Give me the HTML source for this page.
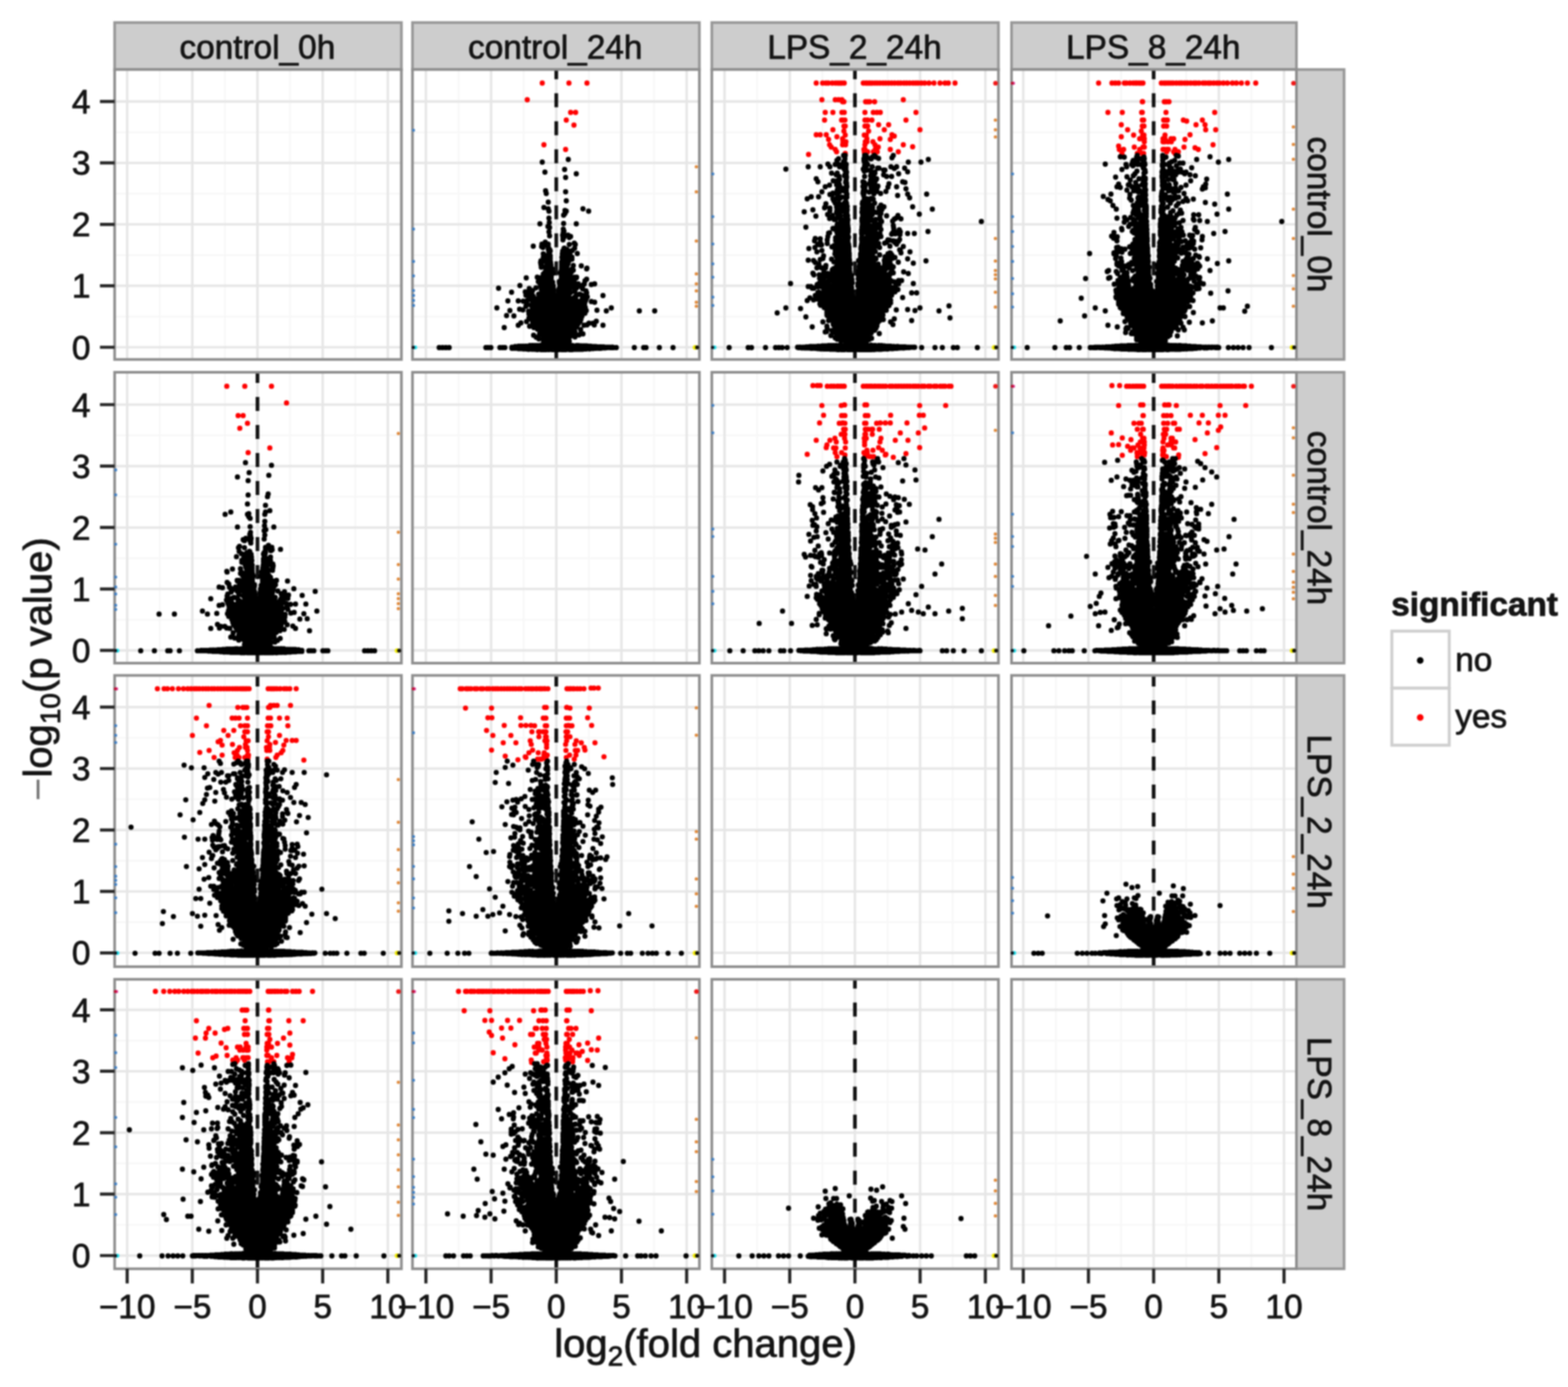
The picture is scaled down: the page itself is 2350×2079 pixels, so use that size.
<!DOCTYPE html>
<html lang="en">
<head>
<meta charset="utf-8">
<title>Volcano matrix</title>
<style>
html,body{margin:0;padding:0;background:#fff;}
body{width:2350px;height:2079px;overflow:hidden;}
svg{display:block;font-family:"Liberation Sans",Arial,Helvetica,sans-serif;}
text{fill:#141414;stroke:#141414;stroke-width:1.1px;stroke-linejoin:round;}
.tk{font-size:50px;}
.st{font-size:50px;}
.ti{font-size:60px;}
.lg{font-size:50px;}
.k{stroke:#000;stroke-width:7.8;stroke-linecap:round;fill:none;}
.r{stroke:#f00;stroke-width:7.8;stroke-linecap:round;fill:none;}
.c{fill:#000;stroke:none;}
.cr{fill:#f00;stroke:none;}
.e{stroke-linecap:round;fill:none;}
</style>
</head>
<body>
<svg width="2350" height="2079" viewBox="0 0 2350 2079">
<defs>
<filter id="bl" x="0" y="0" width="2350" height="2079" filterUnits="userSpaceOnUse" color-interpolation-filters="sRGB"><feGaussianBlur stdDeviation="1.1"/></filter>
<clipPath id="p01"><rect x="618.2" y="104.2" width="430" height="434.6"/></clipPath>
<clipPath id="p02"><rect x="1066.8" y="104.2" width="429.6" height="434.6"/></clipPath>
<clipPath id="p03"><rect x="1516" y="104.2" width="427" height="434.6"/></clipPath>
<clipPath id="p10"><rect x="171.8" y="558" width="429.8" height="436"/></clipPath>
<clipPath id="p12"><rect x="1066.8" y="558" width="429.6" height="436"/></clipPath>
<clipPath id="p13"><rect x="1516" y="558" width="427" height="436"/></clipPath>
<clipPath id="p20"><rect x="171.8" y="1012.4" width="429.8" height="436.6"/></clipPath>
<clipPath id="p21"><rect x="618.2" y="1012.4" width="430" height="436.6"/></clipPath>
<clipPath id="p23"><rect x="1516" y="1012.4" width="427" height="436.6"/></clipPath>
<clipPath id="p30"><rect x="171.8" y="1467.9" width="429.8" height="433.9"/></clipPath>
<clipPath id="p31"><rect x="618.2" y="1467.9" width="430" height="433.9"/></clipPath>
<clipPath id="p32"><rect x="1066.8" y="1467.9" width="429.6" height="433.9"/></clipPath>
<g id="da">
<path class="r" d="M-21 21.5h0m40 0h0m27 0h0m-89.5 25h0m65 19h0m7.5 0h0m-14 11.5h0m11.5 7.5h0m-45 29.5h0m32.5 7h0"/>
<path class="c" d="M17 268.5l-1 0l-1.5-1l-3.5 0l-2 1.5l-2 3.5l-.5 8l-.5 .5l0 3.5l1 1.5l-1.5 2.5l0 11.5l-.5 .5l0 2l-1 1.5l0 4l1 1.5l0 3.5l-1 2.5l-2 2.5l0 4l.5 .5l.5 3.5l-1.5 2.5l0 8l-1.5 1.5l-1 0l-2-3l0-1l1.5-2l-.5-8l-1-1.5l0-3.5l-2-2.5l0-5.5l2-3l0-3.5l-1-1.5l0-4.5l-1.5-2.5l0-4l-.5-.5l0-3l-.5-.5l0-8.5l-.5-1l-2-1.5l-3 0l-1.5 1l-5-.5l-2.5 2l-1 2l0 2l-1 1.5l0 3.5l1.5 2l4 1l.5 .5l0 1.5l-2 2.5l0 3l1 1.5l0 1.5l-3.5 4l-1 3.5l-1.5 1l-1.5 0l-2 1l-1.5 2l0 7l3 4.5l0 2.5l1 1.5l0 2.5l1 1.5l-.5 1.5l-2.5 1l-1.5 2l0 4l-1.5 1l-1.5-1l-1-2.5l-1.5-1.5l0-5l-.5-1l-2-1.5l-3 0l-1 .5l-2 3l-3.5 1l-1.5 2l0 3l.5 1l2 1.5l2 0l1.5 1l.5 1l0 2.5l3 3.5l-2.5 3.5l0 3l1.5 2.5l0 1l-3 1.5l-1.5 2l0 5l1 1.5l-.5 5l1.5 2l3 1.5l1 3l1.5 1.5l-.5 1.5l0 3.5l.5 1l2 1.5l2.5 .5l2 2l1.5 .5l1 1l0 3.5l1.5 2l3.5 1.5l.5 1l0 2.5l.5 .5l-1 5.5l-1.5 1l-2.5 0l-.5 .5l-15 0l-.5 .5l-7 0l-.5 .5l-10.5 0l-1 .5l-1.5 2l0 3l1.5 2l2 1l7.5 0l.5 .5l6.5 0l.5 .5l12 0l.5 .5l61.5 0l.5-.5l11 0l.5-.5l17.5-.5l2-1.5l.5-1l0-3l-.5-1l-2-1.5l-2.5 0l-.5-.5l-7.5 0l-.5-.5l-8.5 0l-.5-.5l-10.5 0l-.5-.5l-5 0l-1.5-1l0-4l-.5-.5l.5-2.5l1.5-1.5l4.5 .5l2-1.5l.5-1l0-3l-.5-.5l.5-4.5l-.5-1.5l2.5-2l3-6l2.5-2.5l1.5-3.5l0-2.5l1.5-2.5l.5-2l2-1l2-2l1.5-3l0-3.5l-1-1.5l0-2l-1-1.5l0-4l2-4l0-1.5l1.5-2.5l0-3l-1-2l-2-1.5l-3 0l-1.5 1l-1.5 0l-1 .5l-1.5 2l0 3l-.5 1l-2.5 2l-3-2.5l-1.5-2.5l-1-.5l-3.5 0l-1.5 1l-1-.5l-1-1.5l2-3l0-3l-1-1.5l0-1l1-1l1 0l2.5 2l3 0l1-.5l2-2l1.5-3l0-4l-1.5-2l-2.5-1l-1-1.5l0-1.5l.5-.5l0-3.5l-1.5-2l-3-.5l-2-1.5l0-1l2.5-3l0-3l-.5-1l-2-1.5l-4 0l-1-1.5l0-1.5l1.5-2.5l0-2l1.5-3l3-1.5l1.5-2l0-4l-3-3.5l0-4.5l-.5-1zM-14 259l-1-.5l-3 0l-2.5 2l-2 .5l-1.5 2l0 3l.5 1l2 1.5l3 0l2.5-2l2-.5l1.5-2l0-3z"/>
<path class="k" d="M-21 140h0m39-4h0m-5.5 15h0m-29.5 4h0m47 2.5h0m-16 5.5h0m-30 20h0m1 4h0m29-2.5h0m-26 15.5h0m27-2h0m-33.5 10h0m6.5 2h0m25 2.5h0m27-2.5h0m-51 3.5h0m24 3.5h0m2-3.5h0m33.5 0h0m-59.5 10.5h0m22-4.5h0m-21.5 11h0m-14 2h0m12 4h0m23.5-4.5h0m19 .5h0m-40 5.5h0m20.5 2.5h0m-21.5 4h0m21.5 1h0m1-2h0m-21.5 7h0m19.5-1h0m.5 3h0m1.5 0h0m1-2.5h0m5-.5h0m2 3.5h0m2-1.5h0m-38 8.5h0m26.5-3.5h0m-44.5 9.5h0m12.5 .5h0m.5-3.5h0m4.5 1h0m5 2.5h0m0-3.5h0m31.5 .5h0m7.5-2h0m1.5 2h0m-48.5 4.5h0m8 2h0m.5 2.5h0m1.5-1.5h0m21.5-1.5h0m.5-.5h0m4 2h0m8 1.5h0m3.5-3.5h0m-47 8.5h0m8.5-3h0m1 1.5h0m1-3h0m18 4.5h0m.5-4h0m9.5 0h0m1.5 5h0m11-1.5h0m-51 6h0m3-3h0m7.5 .5h0m0 3.5h0m17.5-1.5h0m0 .5h0m15-.5h0m-47 8h0m.5-2.5h0m4.5 .5h0m9.5-.5h0m.5 2.5h0m16.5 0h0m0-1h0m10.5-.5h0m5-3.5h0m-46.5 8h0m.5-1h0m8 2.5h0m.5-1.5h0m6 .5h0m0 1h0m16-1h0m9-.5h0m.5-1h0m8 2.5h0m12 .5h0m-60 2h0m5.5 0h0m11 2.5h0m13.5 2.5h0m.5-3h0m0-2h0m8 .5h0m7.5 2.5h0m2 1.5h0m20-2h0m.5-1h0m-65.5 9h0m2-2h0m1.5-2h0m11.5 2.5h0m10.5-.5h0m16.5-1h0m-67.5 8.5h0m16.5-1h0m5 1h0m16-1.5h0m0 2h0m15 .5h0m0-4.5h0m13.5 .5h0m2.5 2.5h0m4-.5h0m2.5 1h0m.5-1h0m-57.5 6.5h0m21.5 1h0m10 0h0m0-1h0m22.5 .5h0m16-1.5h0m2.5-2.5h0m-100 9.5h0m30-3h0m1 4h0m18-2h0m1 1.5h0m9.5-3h0m27 3.5h0m1-3.5h0m7.5 1.5h0m1.5-1.5h0m10.5 1h0m5-1h0m-144 6.5h0m46 .5h0m5 3h0m5-4h0m8 2h0m18 1h0m.5-1h0m8 0h0m.5-1h0m.5-1.5h0m15 2h0m7-1h0m3.5-.5h0m8-.5h0m1 2h0m-106.5 5h0m20.5-.5h0m4.5 2h0m5.5-2h0m10 3.5h0m2-.5h0m20 0h0m8.5-3.5h0m15 5h0m2.5-3.5h0m6.5-1.5h0m7 4h0m2.5 1h0m7-6h0m1 3h0m-91 3.5h0m3 0h0m4 4h0m3-3.5h0m1 1.5h0m1.5 2.5h0m7.5-1.5h0m27.5-2.5h0m20.5 4.5h0m5-2h0m2.5-2.5h0m9.5 0h0m0 3h0m7-1h0m23.5-2h0m-142.5 8h0m15.5 0h0m7.5 .5h0m6-1h0m6-1.5h0m2 3.5h0m7-4.5h0m58 1.5h0m4.5 2.5h0m4-2h0m5.5 1.5h0m1-2.5h0m8 3h0m5 1h0m-103 6h0m1-3h0m.5-.5h0m6 2h0m80.5-1.5h0m-131.5 5.5h0m19.5 4h0m14.5-2h0m5 1h0m13.5 .5h0m80-4h0m1.5 4.5h0m16-.5h0m14 1h0m7.5-4.5h0m42 4.5h0m23 0h0m-189 .5h0m.5 4h0m84-1h0m-117.5 3.5h0m11 .5h0m22.5 3.5h0m2.5 1h0m77-4h0m-83 8h0m9 .5h0m69.5 1h0m2-2h0m1-3h0m23 3h0m-117 6h0m4-3.5h0m13 5h0m7-1h0m63.5 2h0m2-4h0m9 1.5h0m4.5-.5h0m3-2.5h0m6 0h0m2 2.5h0m13 .5h0m-148 3.5h0m44.5 0h0m5.5 2.5h0m1.5 .5h0m54-1.5h0m9 1.5h0m-61.5 6.5h0m1 .5h0m51 0h0m1-4h0m6 5h0m3-2.5h0m3 1h0m-74 2h0m4 3h0m11 1h0m38 0h0m2-2.5h0m7 1h0m-54 3h0m7 4h0m0-.5h0m38.5 0h0m-81 8h0m3 0h0m2-.5h0m3.5 0h0m3.5 0h0m3.5 0h0m1.5 0h0m4-.5h0m1-.5h0m3.5 0h0m1 0h0m3.5 0h0m3.5 0h0m3.5 0h0m1.5-.5h0m44 0h0m3.5 .5h0m6 0h0m2.5 0h0m3.5 .5h0m1 0h0m3 0h0m2.5 0h0m2.5 0h0m3 .5h0m3 0h0m4 .5h0m3.5 0h0m-234.5 1.5h0m5 0h0m5 0h0m5 0h0m55 0h0m3.5 0h0m4 0h0m13.5 0h0m4 0h0m3.5 0h0m10.5 1h0m0-1.5h0m1.5 1.5h0m2.5-2h0m1 2h0m3.5 0h0m1 .5h0m3 0h0m3 0h0m2 .5h0m3.5 0h0m3.5 .5h0m1 0h0m1-.5h0m4 .5h0m3.5 0h0m4 .5h0m4-.5h0m1.5 .5h0m3 0h0m2.5 0h0m2.5 0h0m3.5 0h0m.5 0h0m4.5 0h0m1 0h0m3 0h0m1.5 0h0m3.5 0h0m1.5 0h0m3.5 0h0m2.5 0h0m3 0h0m1.5 0h0m3-.5h0m2.5 .5h0m3 0h0m1 0h0m3.5-.5h0m2 0h0m2 0h0m3 0h0m2.5 0h0m2.5 0h0m3-.5h0m2.5 0h0m1-.5h0m4 .5h0m1.5-.5h0m3.5 0h0m3-.5h0m2 0h0m2.5-2h0m1 2h0m2-2h0m1 2h0m.5-2h0m2.5 1.5h0m1-1.5h0m2.5 1.5h0m.5-1h0m3 .5h0m0-.5h0m3.5 0h0m.5 .5h0m3-.5h0m0 .5h0m1-.5h0m1.5 .5h0m4 0h0m27 0h0m14 0h0m3.5 0h0m20 0h0m20.5 0h0"/>
</g>
<g id="db">
<path class="cr" d="M29.5 119l-1 .5l-2.5 3.5l0 3l.5 1l2 1.5l3 0l3.5-2.5l.5-1l0-3l-2-2.5l-1-.5zM-17.5 106.5l-1 .5l-1.5 2l0 4.5l.5 1l2 1.5l3 0l1-.5l1.5-2l0-4.5l-.5-1l-2-1.5z"/>
<path class="r" d="M-58 21.5h0m9.5 0h0m5 0h0m3.5 0h0m6 0h0m5 0h0m3.5 0h0m3 0h0m3 0h0m3.5 0h0m28.5 0h0m3.5 0h0m2 0h0m3 0h0m2 0h0m3 0h0m4 0h0m3.5 0h0m4 0h0m4.5 0h0m4 0h0m4.5 0h0m4.5 0h0m4.5 0h0m5 0h0m4 0h0m5 0h0m4 0h0m4.5 0h0m5 0h0m4 0h0m3.5 0h0m5 0h0m5 0h0m6.5 0h0m7.5 0h0m9 0h0m7.5 0h0m5 0h0m10 0h0m-199.5 25h0m20 0h0m5 0h0m5 0h0m1 3h0m2 0h0m32.5 0h0m3 0h0m3 0h0m7.5 0h0m43-3h0m-117 19h0m11.5 0h0m13.5 0h0m3.5 0h0m31 0h0m12.5 0h0m5.5 0h0m5 0h0m53.5 0h0m-137 11.5h0m25.5 0h0m2 0h0m3 0h0m30 0h0m3.5 0h0m.5 0h0m6.5 0h0m51 0h0m-93 9h0m2 0h0m29.5 0h0m2.5 0h0m1.5 0h0m16.5-2h0m15 0h0m-83.5 7.5h0m77 0h0m53.5 0h0m-155.5 7.5h0m6 0h0m9 0h0m26.5-5.5h0m37 0h0m35 5.5h0m-82.5 3h0m12.5-2.5h0m28.5 0h0m3 0h0m42 1.5h0m-98.5 5h0m21-1h0m.5 4.5h0m4.5 0h0m29 0h0m2.5-4.5h0m0 4.5h0m9 0h0m10.5-4.5h0m15.5 1h0m-91 8h0m19.5 0h0m4.5 0h0m29 0h0m15 0h0m42.5 0h0m-108 3.5h0m6 3.5h0m43 0h0m1.5 0h0m15.5 0h0m2 0h0m2.5-3.5h0m18 3.5h0m33.5-4h0m-156 11.5h0m42-4h0m13 2.5h0m28.5-2.5h0m.5 2.5h0m4.5-2.5h0m8.5 0h0m2 2.5h0m4-2.5h0m31.5 0h0"/>
<path class="c" d="M65 241l-2.5 2l-.5 1l0 3l.5 1l2 1.5l3 0l2.5-2l.5-1l0-3l-.5-1l-2-1.5zM38 203l-2 1.5l-1 2l0 3l1.5 2l2 1l3 0l2-1.5l1-2l0-3l-1.5-2l-2-1zM19.5 192.5l-2 0l-.5-.5l-3 0l-2 1.5l-1 3l-2.5 3l0 4.5l1 2l-1 1.5l0 5l-.5 .5l0 3.5l1 1.5l0 4l-1 1.5l.5 11.5l-.5 .5l0 4l-.5 .5l0 5.5l.5 1l2 1.5l5-.5l1.5 1.5l0 1l-1.5 2l-5-.5l-1 .5l-1.5 2l.5 6.5l-.5 .5l0 2l-1 3l0 6l.5 .5l0 2l-1 1.5l0 7l-2 3l0 3.5l1 1.5l-1 4l0 5l-1 1.5l0 4.5l-.5 .5l0 3.5l1 1.5l-.5 1.5l.5 6l-1.5 2l0 5.5l1.5 2l0 1.5l-1 1.5l0 6.5l.5 .5l0 1.5l-2 2l-1 0l-1-1l-1.5-4l.5-5.5l-.5-.5l-.5-6.5l1-1.5l0-8l-1-1.5l0-5l-2-3l0-5l-.5-.5l0-3l-.5-.5l1.5-2.5l0-3l-1-1.5l0-4.5l-.5-.5l-.5-21.5l-1.5-2.5l0-4l1-2l0-4l-.5-.5l.5-.5l0-4l-.5-.5l0-7.5l-.5-.5l0-3l-.5-.5l.5-.5l-.5-14l-1.5-2l1-3.5l-.5-13l-.5-1l-2.5-2l-3 0l-2.5 2l-.5 1.5l-3.5 2.5l-.5 1l0 4l-.5 .5l-4 0l-1 .5l-1.5 2l-.5 4.5l2 3l0 5l1.5 2l3.5 1l-1.5 2.5l-2 .5l-2 1.5l-1 4l-1 .5l-2 2.5l0 3l.5 1l2 1.5l.5 2.5l1 1.5l-.5 2l-1 .5l-1.5 2l.5 5.5l1.5 2l2 1l0 1l-.5 .5l-4 0l-1 .5l-1.5 2l0 3l2.5 3.5l0 7.5l2.5 5l0 1l-1.5 2.5l0 3l2 2.5l0 1l-2.5 2.5l-1.5 .5l-3 2.5l-.5 1l0 2.5l-1 1.5l-1 .5l-.5-.5l-3.5 0l-.5 .5l-5-.5l-1 .5l-1.5 2l-2 .5l-2 1.5l-1 3l0 3.5l1 1.5l0 1.5l-2 2l-2.5 1.5l-.5 1l0 3.5l.5 1l2 1.5l5-.5l2.5 2l.5 1.5l-1 1.5l-1.5 0l-.5-.5l-3.5 0l-2.5 2l-.5 1.5l-2.5 2l-.5 1l0 3l.5 .5l0 2l1.5 2l3 .5l1.5 1l.5 1l-.5 1l0 3.5l2 2.5l3.5 1l2.5 3l2 1l.5 1l0 7.5l.5 1l3.5 2.5l1 4l4 2.5l0 4l3 4l-.5 1l-2.5 2l-.5 1l0 3l2 2.5l3.5 1.5l0 1.5l-.5 .5l0 3.5l.5 1l2 2l3 .5l3 2l5-.5l.5 1.5l-.5 .5l-1.5-.5l-4 0l-1.5 1l-4.5 0l-.5 .5l-12 0l-.5 .5l-8.5 0l-.5 .5l-7 0l-.5 .5l-1.5 0l-1 .5l-1.5 2l0 3l.5 1l2 1.5l16.5 .5l.5 .5l14.5 0l.5 .5l58.5 0l.5-.5l11 0l.5-.5l16.5-.5l1-.5l1.5-2l0-3l-.5-1l-2-1.5l-10-.5l-.5-.5l-6 0l-.5-.5l-20.5-.5l-1.5-1l0-1.5l3-1.5l2-2.5l0-3l-1.5-2l0-1l2-1l2.5-3.5l3-1l1.5-1.5l3-6l0-3l.5-1l4-4l1.5-.5l2-2.5l0-3.5l.5-.5l0-4.5l-.5-1.5l1.5-1l1.5 0l2-1.5l1-4l2-1l4.5-6l0-6l-1-1.5l0-1.5l2-1.5l1-3.5l3.5-1.5l3.5-4.5l0-3l-1.5-2.5l4-3l.5-1l0-3l-.5-1l-2-1.5l-3 0l-3.5 2.5l-.5 1l0 3l.5 1l-1.5 1l-2.5 0l-1-.5l-.5-1.5l3-3.5l0-3l-3.5-5l0-2.5l-1.5-2l-2-.5l-3-2l0-1l3.5-3l1 0l1.5 1l4 0l1-.5l1.5-2l0-3.5l-4-4.5l0-3l1-1.5l1.5-.5l2-2.5l0-3l-1.5-3l-3-3.5l-1-.5l-3.5 0l-2 1l-1 1l-1 2.5l-3 2l-.5 1l0 2.5l-1 1.5l0 8.5l-1 1.5l-1 .5l-1.5-.5l-2.5-3.5l-1-.5l-3.5 0l-1-1.5l2.5-3.5l0-3.5l-1.5-2l-2-1l-.5-1.5l3-3.5l-.5-5.5l2-1.5l2.5-.5l1.5-2l0-4l-.5-1l-2.5-2l0-1l2-2.5l2-1l2-2.5l0-3l-.5-1l-2.5-2l-2.5 0l-1-.5l-1-2l1.5-2l2.5-.5l2-1.5l1-2l0-3l-1.5-2l-6-2.5l-4 0l-2 1.5l-1 2l-1.5 0l-1.5-1l0-1l3-1.5l1.5-2l-.5-5.5l1.5-1.5l2-4l0-3.5l-1.5-2l.5-4.5l-1.5-3l-1-1l-3.5-1.5l.5-5l-2-2.5zM-37.5 319.5l.5-.5l1.5 .5l1 1.5l0 1l-1.5 .5zM34 315l.5-.5l1.5 0l.5 1.5l-.5 .5l-1.5 0zM-44 315l.5-.5l1.5 0l1 2l-1.5 .5l-1.5-1zM-19.5 253l1.5-.5l.5 1.5l-1.5 .5zM-18 216l1.5 1l-.5 1.5l0 4.5l-1.5 1l-1 0l-.5-.5l.5-1l0-4l-.5-.5l.5-1zM-16.5 176.5l-3 2l-.5 1l0 3.5l.5 1l2 1.5l4.5 .5l1-.5l1.5-2l0-4.5l-.5-1l-2-1.5zM-27 169.5l-1 .5l-1.5 2l0 3.5l2.5 4l1 .5l3 0l1-.5l1.5-2l-.5-5.5l-.5-1l-2-1.5zM23.5 163.5l-2 1.5l-.5 1l0 2.5l-1.5 2.5l0 3l2 3l.5 7l1.5 2l3.5 2l3.5 0l3-1.5l1.5-2l.5-8l-2-2.5l-2-1l0-1l1-1.5l0-3.5l-1.5-2l-3.5-1.5zM25 153.5l-1 .5l-1.5 2l0 3.5l.5 1l2 1.5l3.5 0l2.5-2l.5-1l0-3l-.5-1l-2-1.5zM18.5 139l-3 0l-1 .5l-1.5 2l0 3.5l.5 .5l-2 1.5l-1 2l0 4l.5 1l2 1.5l3 0l2-1l1.5-2l0-3.5l-1-1.5l1-.5l1.5-2l0-3.5l-.5-1zM-17.5 138l-2.5 2l-.5 1.5l-2 1.5l-.5 1l0 3l.5 1l5 4.5l1 .5l3 0l1-.5l1.5-2l.5-8l-3-4l-1-.5zM15 129l-2.5 2l-.5 1l0 3l.5 1l2 1.5l3 0l2.5-2l.5-1l0-3l-.5-1l-2-1.5z"/>
<path class="k" d="M-24.5 135h0m7.5-5h0m2 5h0m.5-5h0m28 5h0m1-5h0m2 5h0m0-5h0m1.5 2.5h0m5.5 2.5h0m1 0h0m1.5-2.5h0m3-2.5h0m2.5 2.5h0m4 2h0m20-1h0m2-3.5h0m-84.5 7.5h0m10 2h0m1.5 0h0m29-2h0m.5 2h0m66 .5h0m19 0h0m11-4h0m-180 11h0m18 0h0m11.5-4h0m3 4h0m8-3.5h0m5 0h0m1.5 3.5h0m5.5-5.5h0m4 5.5h0m.5-3.5h0m27.5 2h0m3-4h0m1.5 2h0m7 3.5h0m28 0h0m8.5 0h0m-166 3.5h0m86.5-1.5h0m2 3h0m1.5-3h0m0 3h0m26-1.5h0m1 1.5h0m3-3h0m1.5 3h0m5.5 0h0m10.5-3h0m2 0h0m7 3h0m2 0h0m14-2.5h0m15.5-.5h0m-109.5 7.5h0m7 2.5h0m1.5-2.5h0m11.5 2.5h0m1-1.5h0m1 1.5h0m.5-4h0m26.5-1.5h0m10.5 1.5h0m3.5 4h0m2-2.5h0m0-1.5h0m13 4h0m22.5-1.5h0m13.5-3h0m-102.5 7h0m8-1h0m3 2h0m27-1h0m9-1h0m24 1h0m7.5 0h0m-113 3.5h0m2.5 4.5h0m23-1.5h0m5.5 0h0m3.5-3h0m.5 1h0m9 4.5h0m.5-2.5h0m.5-2h0m25 3.5h0m2 1h0m9.5-3.5h0m1.5-2h0m5 4.5h0m2-3.5h0m.5-1h0m39 4.5h0m3.5 1h0m-113 4h0m10.5-.5h0m4-1h0m1 3.5h0m10-5h0m0 2h0m.5 3h0m24 0h0m2-4.5h0m7.5 .5h0m8 3h0m5 .5h0m16.5-3.5h0m-95.5 4.5h0m18 5h0m1-2.5h0m8 0h0m1 3.5h0m2.5-4.5h0m1 3.5h0m.5-4h0m25-.5h0m1 3.5h0m1.5-4h0m.5 6h0m8.5-5.5h0m.5 1h0m8.5 .5h0m16.5-1.5h0m13-.5h0m14 3h0m-126 4.5h0m12 4h0m4.5-2h0m0 1h0m6-.5h0m.5-3.5h0m3.5 1h0m10-1h0m1 4.5h0m24-1.5h0m.5-3h0m1 4h0m8-2.5h0m2.5-1.5h0m4.5 4h0m4.5-3.5h0m5.5 3h0m8-3h0m32.5 4h0m28.5 0h0m-179 7h0m6-3h0m11 0h0m21.5 3h0m6-1h0m4.5 .5h0m0-2h0m2.5 0h0m6 1h0m1-3.5h0m1 2.5h0m25-3h0m1 5h0m4 .5h0m6-.5h0m40-4.5h0m18 3.5h0m-113.5 4.5h0m18 1h0m25 1h0m10.5-3h0m5.5-1.5h0m-72 11.5h0m1-4.5h0m14-1h0m2 5.5h0m3.5-5.5h0m2 2h0m2 2.5h0m4.5-5h0m3 1h0m1 4.5h0m22.5-4h0m1 3h0m11.5-1h0m6-3h0m9.5 3h0m4.5 2.5h0m43 0h0m-149.5 4.5h0m17.5-3h0m8 .5h0m10.5 2.5h0m2 .5h0m5-1.5h0m8.5 1h0m22.5-2.5h0m0 1.5h0m15.5-2.5h0m9.5 .5h0m4.5 2.5h0m75.5-.5h0m-192 4h0m35 4h0m3.5-5.5h0m10 2h0m2 4h0m3-1.5h0m5.5-4h0m5 1.5h0m22.5 0h0m.5-1.5h0m15 5h0m2.5-4h0m4 1h0m1.5 0h0m5 1.5h0m57.5 1h0m-155 3h0m20.5 3.5h0m4.5-4.5h0m7 4h0m4.5-3.5h0m7.5-.5h0m.5 3h0m2.5 1h0m0-4.5h0m.5 1h0m21.5 4h0m1-5h0m12 2.5h0m14 .5h0m10-2h0m14 3.5h0m3-4h0m-95.5 6h0m1.5 0h0m8.5 0h0m4 .5h0m6 4.5h0m0-2h0m.5-2.5h0m0-.5h0m21 1h0m0 1.5h0m9 2h0m3.5-3h0m2-1.5h0m6 0h0m7.5 1h0m1.5 2h0m16.5-.5h0m2.5-3h0m10-.5h0m120.5 4h0m-216 4.5h0m1.5-1h0m2.5-1h0m11.5 3h0m.5 1.5h0m21.5-1.5h0m0-3h0m11.5 4h0m4.5 0h0m2-3.5h0m4.5 1h0m4 2h0m20 0h0m-131 2.5h0m40.5 2h0m2.5 1h0m.5-1.5h0m20 2.5h0m0-2h0m20 2.5h0m.5-4.5h0m0 3.5h0m20 2h0m2.5-4.5h0m6 2.5h0m19-2.5h0m.5 3h0m8 0h0m-106 5h0m1.5-.5h0m11-1h0m17-1h0m20 3h0m0-2h0m7.5 1h0m14.5 1h0m5.5 0h0m17.5 1h0m1.5-2h0m4 1.5h0m1-.5h0m.5-1.5h0m5.5 3h0m.5-4h0m11 2.5h0m10 0h0m20.5-3h0m-169 10.5h0m7.5 .5h0m11.5-3.5h0m11.5 2h0m3-4.5h0m6.5 .5h0m5 3.5h0m4 2h0m.5-1h0m.5-1.5h0m19.5 1.5h0m.5-4.5h0m0 2h0m1.5 2.5h0m6.5-2h0m15 2.5h0m5.5-3h0m-99.5 6.5h0m8.5 2.5h0m10.5-4h0m12.5 1h0m3 1h0m4-3h0m11.5 3.5h0m20.5-3h0m.5 3.5h0m37 .5h0m2-3.5h0m2.5 .5h0m5 1h0m3 2.5h0m0-2h0m5 .5h0m2-3h0m-123 7.5h0m3.5 .5h0m2.5 0h0m8.5-2h0m7 5h0m3.5-2h0m3.5 .5h0m18-2h0m.5 3.5h0m18.5-1.5h0m.5-2.5h0m20.5 3.5h0m5-4.5h0m9-.5h0m8 4.5h0m10-3h0m10 3.5h0m-141.5 3h0m9-1.5h0m10.5 4.5h0m20 0h0m20.5-2h0m18-.5h0m0-2h0m.5 3.5h0m27.5-3.5h0m30 3.5h0m1 .5h0m-125 2.5h0m27 3h0m21-4h0m.5 3.5h0m17 .5h0m0 1.5h0m1-4.5h0m17 3h0m4-3.5h0m6.5 5h0m12.5-1.5h0m3-1.5h0m1 .5h0m15.5-.5h0m13.5-1.5h0m-130.5 10h0m1-4h0m19 .5h0m1.5 3.5h0m18-.5h0m0-3.5h0m17 2.5h0m21.5 .5h0m15-1.5h0m10.5-2.5h0m1 4.5h0m3.5-1h0m-130 4h0m8 .5h0m2.5 3h0m7.5-4.5h0m17-.5h0m3.5 4h0m23.5-2.5h0m13.5 .5h0m22.5 2.5h0m1-3h0m2.5-2h0m12.5 2.5h0m8.5 1.5h0m12.5 1h0m14-5h0m27.5 3h0m-160.5 5h0m10.5 2h0m17.5-3.5h0m19.5 1h0m13.5 1.5h0m28-1h0m9.5-1h0m0 2.5h0m9.5 0h0m33.5-3h0m-144.5 7h0m7 0h0m3.5 3h0m0-3h0m2.5 0h0m10 3.5h0m.5-1h0m2-1.5h0m3.5-2.5h0m19.5 0h0m.5 5.5h0m0-3.5h0m13 4h0m1.5-6h0m32.5 1.5h0m6 3h0m1-1h0m2.5-2h0m3.5 0h0m3.5 1.5h0m2-3h0m-120.5 9.5h0m16 0h0m6 .5h0m2 .5h0m31.5-2.5h0m12 3.5h0m42 0h0m6.5-2h0m2-2h0m2.5 1.5h0m15.5-1.5h0m7 2.5h0m-141.5 2h0m8 0h0m.5 5h0m11-2.5h0m37-1.5h0m10 5h0m29-3.5h0m17.5 3.5h0m.5-6h0m-99 8h0m5 2.5h0m3-2h0m6 .5h0m1 1.5h0m27.5-3.5h0m37.5 3h0m5.5-1h0m1-2h0m14 1.5h0m1.5 1h0m4 1h0m6.5-2h0m4.5 0h0m-166.5 4.5h0m26.5 4.5h0m4 0h0m9-1.5h0m.5-1.5h0m1 3.5h0m2-5.5h0m4 5.5h0m10-4.5h0m3.5 3h0m30.5-2h0m1.5-2.5h0m8.5 4.5h0m0-3.5h0m47.5-1h0m9 4.5h0m4.5-3h0m22-.5h0m-151.5 7h0m.5-.5h0m2 .5h0m15 2h0m41.5-3h0m10 4.5h0m50-4.5h0m9.5 3h0m-120 4.5h0m1.5-.5h0m5.5 1h0m44-2.5h0m0-.5h0m0 6h0m9.5-2.5h0m1 2h0m54-4h0m25 1.5h0m7.5 0h0m-160 7.5h0m8-3.5h0m55.5 1h0m2 3h0m5.5-.5h0m48.5 0h0m3-4h0m16.5 3.5h0m-143 4.5h0m9.5-1h0m5-1.5h0m5 4h0m105.5 2h0m0-4h0m-106 5.5h0m1 2h0m102.5 .5h0m90 .5h0m-244.5 3h0m22 1h0m35.5-1.5h0m90.5 4h0m2.5 0h0m.5-5h0m14.5 4.5h0m17-.5h0m11 1.5h0m7.5-4h0m28.5 4.5h0m-242.5 3h0m74.5 0h0m0-2.5h0m-31.5 8.5h0m31.5-3h0m.5 1h0m83 0h0m.5-1h0m17 6h0m83.5-1.5h0m-190.5 6h0m8.5-2h0m3.5-1h0m70.5 3.5h0m2.5-2.5h0m5.5-1.5h0m11 3.5h0m31.5-2h0m-149 9.5h0m22-1h0m9.5-4h0m0 1h0m.5 1h0m2 3h0m63-4h0m0 2.5h0m24-2h0m-98.5 6h0m7 3h0m64-.5h0m2-3h0m-76 5.5h0m2-.5h0m12 1.5h0m3 3h0m52-2.5h0m12 1h0m-72.5 3h0m6.5 3.5h0m54.5 .5h0m-51.5 1.5h0m5.5 2.5h0m38 1h0m4-3h0m-88 10.5h0m1.5 0h0m3.5 0h0m3.5 0h0m3.5-.5h0m4 0h0m2.5-.5h0m3 0h0m2.5 0h0m3.5-.5h0m3.5 0h0m3.5 0h0m3.5 0h0m2 0h0m3 0h0m10-3.5h0m36.5 3.5h0m1.5-.5h0m.5 0h0m1 .5h0m3.5 0h0m1.5 0h0m2 .5h0m3-.5h0m1 0h0m3.5 0h0m4 .5h0m4 .5h0m3 0h0m2.5 0h0m4 .5h0m1 0h0m4.5 0h0m1.5 0h0m-253 1.5h0m28.5 0h0m5 0h0m21 0h0m15 0h0m5 0h0m5 0h0m7.5 0h0m15.5-.5h0m1 .5h0m2-.5h0m0 .5h0m1-.5h0m2.5 1h0m1.5-1h0m2 1h0m.5-1h0m1.5 1h0m1.5-1.5h0m1 1.5h0m1.5 0h0m.5-1.5h0m3.5 2h0m2.5 0h0m3.5 0h0m4 .5h0m1.5 0h0m3.5 .5h0m3.5 0h0m2.5 0h0m2.5 0h0m2 0h0m4 .5h0m3.5 0h0m3.5 0h0m3.5 .5h0m2 0h0m3.5 0h0m2 0h0m3 0h0m4.5 0h0m2 0h0m3 0h0m1.5 0h0m2.5 0h0m3.5 0h0m3.5 0h0m3 0h0m2 0h0m3 0h0m2.5 0h0m2.5 0h0m2.5 0h0m1.5 0h0m3 0h0m3.5 0h0m3.5-.5h0m3.5 0h0m2 0h0m2 0h0m4-.5h0m3.5 0h0m2.5 0h0m1.5-.5h0m3.5 0h0m2.5 0h0m4-.5h0m2.5 0h0m2.5-.5h0m.5-1.5h0m1.5 1.5h0m1-1.5h0m2.5 1.5h0m1-1.5h0m1 1.5h0m1.5-1.5h0m2.5 1h0m.5-.5h0m2.5 0h0m.5 .5h0m3-.5h0m3.5 0h0m2 0h0m10.5 .5h0m20 0h0m11 0h0m16.5 0h0m6 0h0m30 0h0"/>
</g>
<g id="dc">
<path class="cr" d="M30.5 120.5l-1 .5l-1.5 2l0 3l2 3l1 .5l3 0l2.5-2l.5-1l0-3l-.5-1l-2.5-2zM14 101.5l-1 .5l-1.5 2l.5 5.5l.5 1l2 1.5l3.5 0l1-.5l1.5-2l0-3l-1.5-3.5l-2-1.5z"/>
<path class="r" d="M-82.5 21.5h0m20 0h0m5 0h0m5 0h0m8.5 0h0m3 0h0m5.5 0h0m5 0h0m3.5 0h0m1.5 0h0m3.5 0h0m3 0h0m3 0h0m27.5 0h0m4 0h0m3 0h0m3.5 0h0m3.5 0h0m3.5 0h0m5 0h0m4.5 0h0m3.5 0h0m4.5 0h0m4 0h0m5 0h0m5 0h0m3 0h0m4.5 0h0m6 0h0m3.5 0h0m4.5 0h0m3 0h0m5 0h0m5 0h0m3.5 0h0m6 0h0m6 0h0m7.5 0h0m6 0h0m7.5 0h0m9 0h0m12.5 0h0m-170 28h0m.5 0h0m32.5 0h0m3 0h0m4 0h0m-91.5 16h0m21.5 0h0m29 0h0m1 0h0m35.5 0h0m73 0h0m-108.5 11.5h0m2 0h0m30 0h0m1 0h0m3 0h0m1.5 0h0m24 0h0m5 1.5h0m23.5-1.5h0m-121.5 7h0m31.5 2h0m2.5 0h0m29.5 0h0m4.5 0h0m44-2h0m13.5 0h0m-116 7.5h0m117 0h0m15 0h0m-111.5 2h0m73 5.5h0m-103 3h0m18.5-2.5h0m13.5 0h0m2 0h0m31.5 0h0m-38 5.5h0m4.5 0h0m2.5 4.5h0m0-4.5h0m28 4.5h0m0-4.5h0m2.5 4.5h0m.5-4.5h0m4.5 4.5h0m4.5-4.5h0m.5 4.5h0m3.5-4.5h0m17 1h0m-99.5 10h0m141.5-2h0m-140.5 7h0m6.5 0h0m16-3.5h0m8 3.5h0m5-3.5h0m2 0h0m28 3.5h0m2 0h0m4 0h0m2 0h0m10 0h0m13.5-3.5h0m16.5 1h0m5 2.5h0m-114.5 6h0m23 0h0m7.5 0h0m2 0h0m34.5-2.5h0m10.5 0h0m2 2.5h0m1 0h0m4-2.5h0"/>
<path class="c" d="M-57 290.5l-.5 1l0 3l.5 1l2.5 2l3 1l2.5 3.5l1 .5l3 0l2.5-2l1-2l0-3l-1.5-2l-2.5-1l-2.5-3.5l-1-.5l-4 0l-.5 .5l-1.5 0zM-45.5 268.5l-2-1l-1.5 0l-1.5-1l-3.5 0l-1 .5l-1.5 2l-.5 3l-2.5 1l-2 2.5l0 3l.5 1l2 1.5l3 0l2.5-2l1-2.5l2 0l.5 .5l3 0l1-.5l2-3l0-3zM61 255.5l-1-.5l-3.5 0l-4 3.5l-2 .5l-2 1.5l-.5 2l-2 3l0 3l1.5 2l2.5 1.5l3 0l5-2l1.5-1.5l.5-2.5l2-3l0-2l.5-.5l0-3zM9 189l0 5.5l1 2.5l2 1.5l3 0l2-1.5l1 0l2 2.5l3 1.5l3.5 0l2.5-1.5l2-2.5l0-3l-2-2.5l-3-1.5l-4.5 .5l-2.5-3.5l-3.5-1.5l-3.5 0l-1 .5zM-27 173l-3.5 2l-2 2.5l.5 5l1.5 2l4 1l2.5 1.5l3 0l.5-.5l2.5 3.5l0 1l-.5 .5l-4 0l-2 1.5l-.5 1l0 3.5l-2 2l-.5 1.5l-2.5 1.5l-1.5 2l0 6l-1 1.5l0 5l.5 1l5 3.5l1.5 3.5l2.5 1.5l1 1.5l-1 1.5l-1.5 0l-1.5-1l-3 0l-1 .5l-1.5 2l0 3.5l2 3l-1 1.5l-1.5 .5l-2 2.5l0 3.5l2 2.5l3 1l2.5 2.5l0 1l-3.5 2.5l-1 4.5l-3 2.5l-2 3l0 3.5l1.5 2l0 2l-.5 .5l0 3.5l.5 1l2 1.5l3 0l.5-.5l1.5 .5l0 1.5l-3 2l-.5 1l0 3.5l-2 2.5l0 3l.5 1l5 3.5l-.5 4.5l.5 1l2 1.5l0 1.5l-1 2l-3 1.5l-4 5l0 4l2 2.5l2 1l.5 3l-.5 1l-3 2.5l-1 0l-1.5-2l0-2.5l-.5-.5l.5-5.5l-2-3l0-3.5l-1.5-3l-.5-2l-2-1.5l-3 0l-1 .5l-3 4.5l-3 1.5l-1.5 1.5l-.5 1.5l-2 2.5l.5 9l.5 .5l-1.5 2.5l-1 .5l-2 2.5l0 4.5l1 1.5l0 1.5l-1 1.5l0 3l2 2.5l2 1l-.5 1.5l0 5.5l2 2.5l1 3.5l4 2.5l1 5.5l4 2.5l1.5 5.5l1.5 1.5l1.5 .5l1 1.5l0 1.5l1.5 4.5l1.5 1.5l1.5 .5l1.5 2.5l0 1l-2 1l-1.5 2l0 3l.5 1l2 1.5l2.5 0l1 .5l1 1.5l0 4.5l.5 1l2 1.5l4 1l.5 1.5l-1.5 1l-6 0l-.5 .5l-11 0l-.5 .5l-19 .5l-2.5 1l-1.5 2l0 3l.5 1l2 1.5l10 0l.5 .5l7.5 0l.5 .5l14.5 0l.5 .5l57.5 0l.5-.5l12.5 0l.5-.5l8 0l.5-.5l8.5 0l1-.5l1.5-2l0-3l-.5-1l-2-1.5l-4.5 0l-.5-.5l-4.5 0l-.5-.5l-8 0l-.5-.5l-21.5-.5l-1.5-1l0-1l1-1.5l0-3.5l3.5-1.5l2.5-2l.5-1l0-2.5l2-3l.5-2.5l2-2l3.5-1l1.5-2l1-4l4-2.5l.5-1l-.5-5l1-.5l2.5-3l0-4.5l3-1.5l1.5-1.5l.5-2.5l1-1.5l0-4l-1.5-2l0-1l6.5-3.5l2-2.5l.5-6.5l2-3l0-3l-1.5-2l.5-2.5l1-1l2.5 3l1 .5l3 0l1-.5l2-2.5l0-6.5l-.5-1l-2-1.5l-3 0l-2.5 2l-2 4l-2-2.5l-3-.5l-2-1.5l0-5l-.5-1l-2-1.5l-2 0l-1.5-1l0-1.5l1-1.5l0-3.5l-1-1.5l0-1.5l.5-.5l1.5 0l1.5 1l2.5 .5l1 1l-.5 5l1 3.5l2 1.5l3.5 0l1-.5l3-3.5l0-3l-1-1.5l0-1l2-3.5l2-.5l2-1.5l2-3.5l0-4l-.5-1l-3-2.5l-3.5 0l-1.5 1l-1 0l-2-2l0-3.5l-1.5-2l-2-.5l-3-2l-3 0l-2.5 2l-2 3l-2.5 1.5l-.5 1l0 3.5l-1.5 2l0 5l-.5 .5l-1 0l-4-2.5l-3-1l-1-1l0-2l2-2.5l.5-2.5l2.5-3.5l0-3l-1.5-2.5l.5-1l2-1l1.5-2l0-7.5l-.5-1.5l2.5-4l0-3.5l-.5-1l-2-1.5l-3 0l-3.5 2.5l-1 2.5l-1.5 1.5l-1.5-.5l-.5-1l0-2.5l3.5-1.5l1.5-2.5l1.5-1l2 1l4 0l2.5-2l1.5-.5l2-2.5l-.5-6l-2-2.5l-.5-1.5l-2.5-2l-3.5 0l-2.5 2l-.5 1.5l-1.5 1l-2 0l-1.5 1l-2.5 0l-.5-.5l.5-1.5l2-.5l2.5-2l1.5-.5l2.5-4l0-4l-1.5-2l0-4l-2-2.5l-1.5-.5l-3.5-3l-3 0l-3 1.5l-3.5-3l-2-.5l-.5-.5l1-.5l2-2.5l0-4l-.5-1l-2-1.5l-3 0l-2 1.5l-1 2l0 3.5l1.5 2l2.5 1l-1 .5l-1.5 2l0 3.5l-2 3l0 5l-.5 .5l0 8.5l.5 .5l0 1.5l-1 1.5l0 3.5l.5 .5l0 4l1 1.5l0 3l-1 1l-1 3l0 4l.5 .5l-.5 1l0 5l-.5 .5l0 14.5l.5 .5l0 1.5l-1 1.5l-.5 2.5l-2 2.5l.5 6l1.5 2.5l0 1.5l-1.5 2.5l0 3.5l1 1.5l0 4l-2 3l0 3l1 1.5l0 1.5l-.5 .5l0 3.5l.5 1l-1.5 3.5l-1 0l-2.5-2.5l-.5-1l0-6l-2.5-4l0-1l1-1.5l0-4l-1-1.5l0-2l-.5-.5l.5-12l-1.5-2.5l.5-1.5l0-5.5l-.5-.5l.5-7l-.5-.5l0-4.5l-.5-.5l0-7l-.5-.5l0-3.5l-.5-.5l.5-1.5l0-8l-.5-.5l0-8l-.5-.5l.5-.5l0-4l-.5-.5l0-5.5l-.5-.5l.5-5l-1-1.5l0-2l.5-.5l0-6l-1.5-2l1.5-2.5l0-3l-.5-.5l.5-1l0-4l-2-3l0-1l1.5-2l0-3l-2-3l1.5-2l-.5-6.5l-.5-1l-2.5-2l-3.5 0l-1.5 1l-1-1.5l-2-1.5l0-3.5l-.5-1l-2-1.5zM33 310l1 0l1.5 2l-2 2.5l-1.5-.5l0-2.5zM-18.5 207l1 0l1.5 2l-.5 1l0 3l1.5 2.5l-1.5 1.5l-1 0l-2.5-3l-.5-4.5zM11.5 171l-1 2l0 3.5l1.5 3.5l2 1.5l3.5 0l4 3.5l4.5 0l.5 1l2 1.5l3.5 0l4-2.5l.5-1l0-4l-2-2.5l-1-.5l-3 0l-1.5 1l-1 0l-1.5-1.5l-1-2.5l-1-1l-4.5-1l-.5-1l-2.5-2l-3 0zM-16 168l-2 1.5l-1 2l0 3.5l.5 1l2 1.5l3.5 0l2.5-2l.5-1l0-3l-2-3l-1-.5zM36.5 154.5l-1.5-2l-3-.5l-5-4.5l-3 0l-1 .5l-3 4l-1.5 0l-.5-1l-2-1.5l-3 0l-2 1.5l-1 2l0 3.5l.5 .5l-.5 6.5l.5 1l2 1.5l3 0l4.5-2.5l2-3l3-.5l2.5-1.5l1 0l2.5 2l3 0l1-.5l1.5-2zM-16.5 139l-3 2.5l-.5 1l0 3l2 2.5l1 .5l3 0l1-.5l2.5-3.5l0-3l-.5-1l-2-1.5zM-24.5 134.5l-1-.5l-3 0l-3.5 1.5l-1.5 1.5l-1 3.5l0 3l1.5 2l1 .5l3 0l2.5-1.5l1.5 0l2-1.5l.5-1l0-3.5l-.5-.5l0-1.5z"/>
<path class="k" d="M-50 132h0m6 .5h0m18.5 0h0m1-2.5h0m5.5 5h0m4.5-2.5h0m.5 2.5h0m27.5-5h0m0 2.5h0m.5 2.5h0m.5 0h0m4-2.5h0m15.5-2.5h0m3 1h0m47.5 1h0m-116 7.5h0m1-2h0m5 0h0m10 0h0m29 0h0m13.5 2h0m4.5-2h0m33-1.5h0m32.5 4h0m15.5-4h0m-185 7h0m31 .5h0m1 3.5h0m7.5-3.5h0m2 2h0m7-2h0m0-2h0m4.5 2h0m3.5 3.5h0m1 0h0m1.5-5.5h0m.5 2h0m26 2h0m0-2h0m3.5 0h0m7 2h0m0-4h0m10.5 4h0m5-4h0m5 0h0m-91.5 9.5h0m32-2h0m2.5 3h0m27-1.5h0m1 1.5h0m9.5-3h0m2 0h0m10.5 3h0m3-1.5h0m17-2h0m-85 9h0m3-4h0m10.5 3h0m2-1.5h0m25 0h0m.5-1.5h0m3 0h0m6.5 0h0m1 4h0m2-1h0m4.5-3h0m.5 3h0m2.5 2.5h0m2-5.5h0m2 1.5h0m5.5 0h0m4 2.5h0m2-2.5h0m6 4h0m-111.5 3.5h0m17-.5h0m9.5-1.5h0m15.5 2h0m2.5 1.5h0m25-3.5h0m0 2h0m1.5 1.5h0m4.5-2.5h0m9.5 2.5h0m34.5-3.5h0m-97.5 6.5h0m8 3.5h0m5-5.5h0m6.5 4h0m1.5-4h0m1.5 1h0m25.5 0h0m0 3.5h0m2-.5h0m7-3h0m6.5 0h0m2 0h0m25 2h0m24-2.5h0m-132 7.5h0m14.5 1h0m2 0h0m11 1.5h0m1.5 1h0m6-2.5h0m4.5 2h0m.5-3.5h0m25.5 2h0m0 .5h0m3.5-3h0m1.5 2h0m5.5 0h0m9.5-2h0m15.5 2.5h0m29.5-1.5h0m-133 4h0m5 1h0m10 4h0m7.5-5h0m2.5 6h0m.5-5.5h0m4 5.5h0m4.5-.5h0m7.5-3h0m1.5 2h0m26-2h0m4-.5h0m3.5 2h0m1 2h0m.5 0h0m1.5-4.5h0m7 1h0m1.5-.5h0m4.5 4h0m3.5-5h0m32 2.5h0m1.5-3.5h0m3 1.5h0m-141.5 9.5h0m28.5 .5h0m12.5-4h0m6 2.5h0m4.5-1h0m24.5 1h0m.5-3h0m17 1h0m4-1.5h0m12 3.5h0m65 1h0m-186 3.5h0m39.5 2.5h0m12.5 0h0m1-1.5h0m6 1.5h0m4.5-4.5h0m23.5 3h0m0-1.5h0m6-2h0m4.5 4h0m3-.5h0m7-1.5h0m1 3h0m4.5-1.5h0m11 2h0m-117 1.5h0m3.5 2h0m31.5-1h0m21.5-1h0m0 2h0m23.5-1h0m1.5 3.5h0m1-4.5h0m7.5 1h0m6.5-.5h0m16 2.5h0m7-1h0m8.5-2.5h0m18 5h0m-138.5 4.5h0m30.5 0h0m3.5-.5h0m2.5-3.5h0m4 4h0m6 1h0m3-1.5h0m.5 2h0m22.5 0h0m3-4.5h0m10.5-.5h0m9 4h0m3-3.5h0m54.5 1h0m-147.5 7.5h0m27 .5h0m6-.5h0m9 1.5h0m3-1.5h0m0-1.5h0m22 2h0m2.5-3.5h0m1 3.5h0m6.5-3.5h0m19 4.5h0m72.5-1.5h0m-143.5 6h0m1-3h0m3.5 5h0m4-5h0m1.5 4h0m7 1h0m3-2h0m0 1.5h0m0-5h0m22 2h0m2.5 0h0m12 .5h0m3.5-2.5h0m9 4h0m4-.5h0m18 2.5h0m7.5 0h0m27.5-1h0m-150 6h0m11.5-1h0m9 0h0m11 .5h0m12 0h0m.5-2h0m23.5 1.5h0m0-3h0m3-.5h0m5.5 2.5h0m3.5-2h0m1.5 1.5h0m5.5 2.5h0m.5 0h0m2.5-4.5h0m-78.5 10.5h0m1.5-4.5h0m2.5 1h0m9-1h0m3 4h0m8.5-1.5h0m8-.5h0m.5 2.5h0m.5-1h0m21 .5h0m0-3.5h0m28 5h0m5.5-3.5h0m15.5-2h0m1 1.5h0m8.5 .5h0m11.5 1.5h0m111.5 0h0m-229.5 7.5h0m2-3h0m1.5-.5h0m4 0h0m1.5 1h0m6-1.5h0m12 2h0m0 2h0m20.5-.5h0m0-3.5h0m21 2.5h0m2-3.5h0m-81 8h0m.5 2h0m17 .5h0m3.5-3h0m16.5 1h0m.5 1h0m20 2h0m0-5.5h0m17 .5h0m9.5 2h0m4.5-2h0m20.5 3h0m1-3h0m-122 7.5h0m27.5-1.5h0m2.5 2h0m4 2.5h0m15-4h0m.5 1.5h0m0 2.5h0m20-2.5h0m13-2h0m6 1.5h0m2.5-1h0m11 0h0m22.5 0h0m.5 .5h0m24.5 2h0m17-3h0m-170 7h0m3 3h0m0-1.5h0m5.5-.5h0m44.5-1.5h0m.5 4h0m19.5-5.5h0m1 3h0m18 3h0m5.5-4h0m4.5 .5h0m5.5-2h0m9.5 0h0m3 3.5h0m1.5-3h0m14.5 1.5h0m-128 6.5h0m27-2h0m0 2.5h0m18 2h0m.5-2.5h0m19.5 1h0m.5-1h0m15.5-2.5h0m7.5 4h0m3-1h0m1-.5h0m4.5 1h0m5.5-1h0m7.5 2h0m2.5-3.5h0m2.5 2h0m12.5-2h0m-108.5 10.5h0m4-2h0m1-2h0m21.5 1.5h0m18.5 2h0m0-5.5h0m.5 3h0m15-2.5h0m6.5 3h0m6-1.5h0m12.5 2.5h0m1-4h0m9 .5h0m-115 6h0m2-.5h0m5 2.5h0m5.5 .5h0m34 0h0m0-2h0m17.5 3.5h0m1-1.5h0m27-1h0m7 2h0m.5-4h0m7 2h0m2.5-.5h0m1.5-1h0m2.5-.5h0m4 3h0m9-2h0m-166.5 8.5h0m36.5 .5h0m0-1.5h0m2.5-1h0m1 4h0m4.5-5h0m4 1h0m12.5 2h0m3-4h0m1 3.5h0m5.5 .5h0m16.5-1h0m0-2h0m18 1h0m0 3.5h0m23 .5h0m4.5-4.5h0m5 2h0m6-.5h0m2.5 1.5h0m3 .5h0m-110 6.5h0m1-4h0m7 3.5h0m20 0h0m2.5-.5h0m18.5-3h0m16.5 1h0m0-.5h0m.5 2h0m27 .5h0m14 0h0m1-4h0m8.5 5h0m3.5-5h0m5 2h0m.5 1h0m-119.5 8.5h0m3-2h0m15 1.5h0m24.5-5h0m.5 4.5h0m0-1.5h0m16 1h0m1.5-4.5h0m21.5 3.5h0m13 .5h0m4.5-3h0m6.5-.5h0m25.5-.5h0m32 3h0m-167.5 5.5h0m0-2h0m2.5 4h0m7.5 0h0m2 1h0m4.5-2h0m2-1.5h0m3 .5h0m5.5-.5h0m2.5 2h0m17-1h0m14 0h0m23-1.5h0m14.5 4h0m0-1.5h0m15-3h0m7.5-.5h0m1.5 2h0m2 2.5h0m26.5-4h0m-163 10.5h0m19-5h0m1 4.5h0m2-1.5h0m8.5-2h0m5.5 4h0m5.5-2h0m18.5 2h0m0-2.5h0m1-2.5h0m12.5 .5h0m1.5 4.5h0m21.5-5.5h0m4 2h0m3.5 2h0m4.5 1.5h0m2.5 .5h0m2.5-2.5h0m5 1.5h0m15-2h0m18.5 2.5h0m-154 1.5h0m13.5 0h0m2 3h0m9.5-3h0m4.5 2h0m16.5 1.5h0m1-2h0m15 0h0m13 1.5h0m30 .5h0m19.5-4h0m6 .5h0m-163 10.5h0m34.5-.5h0m2-1h0m15.5 0h0m5-3h0m5 1h0m.5 2h0m8.5 2h0m2.5-2.5h0m1-1.5h0m20-2h0m.5 1.5h0m1.5 3.5h0m12.5-1h0m0-1h0m22.5-.5h0m8.5-1h0m5.5 2.5h0m2-4h0m7 6h0m3-6h0m2.5 4.5h0m5.5-2.5h0m4 4h0m1.5-2h0m-122.5 4.5h0m16 2h0m0-1h0m7.5-.5h0m23 .5h0m11.5 .5h0m2.5-2.5h0m23-.5h0m6 0h0m11.5 1h0m2.5 2h0m10.5-.5h0m9 1.5h0m-128.5 3h0m7 .5h0m14 .5h0m.5 1.5h0m11-2h0m20-2.5h0m2 2.5h0m10 2h0m45-1.5h0m4.5 2h0m2 1h0m7-3h0m2.5-1.5h0m2 0h0m6 0h0m-131 9.5h0m4-3h0m1-1.5h0m14.5 1h0m7.5 .5h0m25-1h0m10 3h0m55-3.5h0m4 2.5h0m3.5-.5h0m-124 5.5h0m54-2h0m57.5 0h0m3.5 3h0m26.5 .5h0m26-3.5h0m-220 11h0m52-2h0m0 .5h0m.5 1h0m111.5-2.5h0m-108 9h0m100 .5h0m3-1h0m4-2.5h0m4.5 .5h0m-111.5 5.5h0m106.5 3.5h0m86.5-.5h0m-228 2.5h0m15 4.5h0m22.5-5h0m1.5 1h0m95.5 2.5h0m2-4h0m50.5 1h0m5 0h0m-150 8.5h0m.5-3.5h0m86.5 5h0m4.5-5h0m13.5 2h0m77-2h0m-240 7h0m63.5 0h0m.5 3h0m80.5-2h0m6 0h0m-187 6.5h0m97 1h0m7.5-2h0m.5 2h0m74.5-.5h0m14 1.5h0m34.5-2h0m-156.5 6.5h0m14 2.5h0m20-6h0m.5 3.5h0m3.5 1.5h0m64.5-2h0m7-2.5h0m32-.5h0m-114.5 9h0m1-2h0m1.5 1.5h0m1-1h0m9-.5h0m56.5 2h0m7-1h0m2.5 2.5h0m7-4h0m2 4h0m-88 4h0m8.5 1.5h0m1.5-2.5h0m1.5 2.5h0m56.5-3h0m-51.5 7h0m0 3h0m47-2.5h0m3-2h0m11 1h0m-61 5.5h0m3.5 .5h0m4 3h0m35.5-2h0m-79 9h0m3.5 0h0m1-.5h0m3 0h0m2.5 0h0m2.5-.5h0m2 0h0m3.5 0h0m3 0h0m2.5-.5h0m2.5 0h0m2.5 0h0m3 0h0m3.5-.5h0m4.5 0h0m43 0h0m1 0h0m4 .5h0m1 0h0m3.5 0h0m3 0h0m4.5 0h0m2 0h0m4 .5h0m3 0h0m1.5 0h0m2 .5h0m3 0h0m2.5 .5h0m3.5 0h0m3 0h0m-252 1.5h0m41.5 0h0m17 0h0m5 0h0m14.5 0h0m16.5 0h0m1 0h0m3.5 0h0m2.5 0h0m.5-.5h0m2 .5h0m1.5-.5h0m3 0h0m0 .5h0m2.5 0h0m1.5-.5h0m1.5 .5h0m0-.5h0m2.5 0h0m.5 1h0m1.5-1.5h0m2 1.5h0m1-1.5h0m.5 1.5h0m2-1.5h0m1 1.5h0m1.5 .5h0m4 .5h0m2.5 0h0m3.5 0h0m3 0h0m1.5 .5h0m1.5 0h0m2.5 0h0m1.5 0h0m3 0h0m2 .5h0m2 0h0m3.5 0h0m3.5 0h0m1.5 0h0m3.5 .5h0m3 0h0m4 0h0m3 0h0m3 0h0m4 0h0m3.5 0h0m3.5 0h0m2 0h0m3 0h0m1.5 0h0m3 0h0m2 0h0m2.5 0h0m4-.5h0m2 .5h0m2 0h0m2.5-.5h0m3.5 0h0m3.5 0h0m1.5 0h0m2.5 0h0m3 0h0m1.5 0h0m3.5-.5h0m2.5 0h0m3.5 0h0m3-.5h0m3 0h0m3 0h0m3.5-.5h0m2 0h0m.5-2h0m1.5 1.5h0m1-1.5h0m2.5 1.5h0m.5-1.5h0m.5 1h0m3.5-.5h0m2 1h0m1-1h0m1.5 0h0m1 1h0m2.5-.5h0m0-.5h0m1.5 0h0m3 .5h0m.5-.5h0m1 0h0m3 0h0m2 .5h0m1.5-.5h0m0 .5h0m1.5-.5h0m1.5 .5h0m14.5 0h0m7.5 0h0m7 0h0m7.5 0h0m9 0h0m33.5 0h0"/>
</g>
<g id="dd">
<path class="r" d="M-63 20.5h0m6.5 0h0m4.5 0h0m10.5 1h0m5.5 0h0m4.5 0h0m5 0h0m1.5 0h0m3.5 0h0m1 0h0m3 0h0m1.5 0h0m28.5 0h0m4.5 0h0m.5 0h0m3.5 0h0m2.5 0h0m1.5 0h0m4 0h0m1.5 0h0m4.5 0h0m3 0h0m4 0h0m4 0h0m6.5 0h0m3.5 0h0m5 0h0m4 0h0m4.5 0h0m4 0h0m4.5 0h0m4.5 0h0m5 0h0m3.5 0h0m4 0h0m5.5 0h0m3.5 0h0m6 0h0m3 0h0m6 0h0m3 0h0m6 0h0m4 0h0m3 0h0m6 0h0m3 0h0m-193.5 29h0m29 0h0m4.5-1h0m.5 0h0m30.5 0h0m2.5 0h0m79.5 1h0m39 0h0m-183 14.5h0m27 .5h0m2.5 0h0m2.5 0h0m30.5 0h0m1 0h0m3 0h0m34-.5h0m43 0h0m6 0h0m-155.5 11.5h0m29.5 .5h0m3 0h0m2.5-.5h0m3 .5h0m29.5 0h0m2 0h0m16 0h0m5.5-.5h0m7.5 0h0m7.5 0h0m25 0h0m-95 9.5h0m2.5 0h0m30 0h0m1 0h0m3 0h0m5.5 0h0m1.5 0h0m10 0h0m68-2h0m-36.5 7.5h0m27 0h0m-115.5 2h0m4.5 0h0m1 0h0m30 0h0m1 0h0m10 0h0m-84 9h0m20.5 0h0m7.5-3h0m14.5 0h0m29.5 0h0m3 0h0m22 0h0m21.5 3h0m19 0h0m-121.5 7h0m14-4.5h0m14 0h0m28.5 4.5h0m0-4.5h0m23 0h0m-80.5 8.5h0m11 .5h0m3.5 0h0m14 0h0m50-.5h0m61.5 0h0m-126.5 7.5h0m9.5 0h0m33.5 0h0m4.5-3.5h0m.5 3.5h0m8.5-3.5h0m14 0h0m35.5 5h0m-148 1h0m44.5 3.5h0m12-2.5h0m30 2.5h0m7 0h0m2 0h0m4 0h0m17.5-2.5h0m1-1h0m11 4.5h0"/>
<path class="c" d="M-53 269.5l-1 .5l-1.5 2l0 3.5l.5 1l2 1.5l3 0l1-.5l1.5-2l0-3.5l-.5-1l-2-1.5zM57 255l-1 .5l-4 5l0 3.5l2.5 4l1 .5l4 0l5-2.5l1.5-2l0-3l-1-1.5l0-1.5l-1.5-2l-2.5-1zM-25 197.5l-1 .5l-1.5 2l0 3l2 3l2 1.5l3.5 0l2-1.5l1.5 0l1 1l-2.5 3.5l-3 .5l-3.5 2.5l-2 0l-3 1.5l-1 1l-1.5 3.5l0 4l.5 1l1.5 1l1.5 2l3.5 1l1 1.5l-1 1.5l-2.5 1.5l-.5 1l.5 4.5l-1 .5l-2 2.5l0 3.5l.5 .5l0 2.5l1 1.5l0 2l1.5 2l3 1l.5 1.5l-2 1.5l-1 2.5l-2 2l-1 2.5l-2.5 2.5l-.5 1l0 3l1 2l2 1.5l4 0l1.5-.5l1 1.5l0 2.5l-1 2l-1.5 1l-1.5-1l-4 0l-1 .5l-3 4.5l0 4.5l-1.5 2l0 3l.5 1l4.5 3l.5 4l.5 1l2.5 2l-.5 4.5l2 2.5l0 1l-1.5 1l-3-2l-3.5 0l-1.5 1l-1.5 0l-1.5-1l-1 0l-.5-.5l1-.5l1.5-2l0-3l-.5-1l-2-1.5l-3.5 0l-1 .5l-2 3l-1.5-1l-3 0l-2 1l-1.5 2l0 3l.5 1l2.5 2l3 0l1-.5l2.5-4l3 1.5l-3.5 2l-2 2.5l.5 7l-1 1.5l0 3.5l.5 1l3 2.5l.5 2.5l-1.5 1l-5-4l-6 0l-2.5 2l-1 2l0 3l3 4l3 1.5l0 4.5l3.5 5l0 2l1.5 2.5l.5 2.5l2 1.5l1 1.5l0 5l.5 1l6 4.5l1 1.5l-3.5 6l0 3l1.5 2l2.5 1l3 0l1.5-1l1 0l1 1l1.5 3.5l3 2.5l1 4.5l4 2.5l-.5 1.5l0 4l.5 1l2 1.5l2.5 .5l.5 1.5l-.5 .5l-4.5-.5l-1.5 1l-3.5 0l-.5 .5l-13.5 0l-.5 .5l-17 .5l-1 .5l-1.5 2l0 3l1.5 2l3 1l12 .5l.5 .5l14.5 0l.5 .5l60.5 0l.5-.5l11 0l.5-.5l16.5-.5l1-.5l1.5-2l0-3l-.5-1l-2-1.5l-10-.5l-.5-.5l-6.5 0l-.5-.5l-15.5 0l-.5-.5l-4 0l-1.5-1l.5-1.5l4-1.5l2-2l3.5 0l2.5-1.5l3.5-4.5l.5-2.5l2-1l1.5-1.5l.5-1.5l2-1.5l.5-1l0-5l-.5-1l-2.5-1.5l-1-1.5l.5-1l2-1l1.5-2l-.5-4.5l3-5l0-4.5l2-1l1.5-2l0-3l-1-1.5l1.5-3l2-1l2-2.5l0-3l-1-3l-1-1l-3-1l-.5-.5l0-1.5l1-1l2 2.5l1 .5l3 0l4-2.5l1-3.5l2-1l1.5-2l0-3.5l-.5-1l-2-1.5l-.5-3l-1-2l-2-1.5l0-4.5l-.5-1l-2.5-2l-3 0l-3.5 3l-2.5-1.5l0-1.5l1-1.5l1-.5l.5 .5l3 0l2-1.5l.5-1l-.5-5l1-1l4 3.5l3 0l1-.5l2-2.5l-.5-5.5l-1.5-2l-2.5-1l-4 0l-1 .5l-2 2.5l-2-1.5l3-3.5l-.5-5.5l1.5-2l0-3.5l-1-1.5l0-5l-1-2l-2.5-2l-3.5 0l-1.5 1l-2 0l-3 2l-.5 1l0 3l1.5 2l2.5 1l1 1.5l0 3l-1 1.5l-1 0l-1.5-1l-2.5 0l-3.5-2.5l-1-1.5l0-5l-.5-1.5l2-1l1.5-2l0-3l-.5-1l-4-3l-3 0l-2.5 1.5l-2.5 0l-1.5-1l0-1l3-3.5l4.5 0l2-1.5l1-2l0-3l-2.5-3.5l.5-.5l0-3l-2-2.5l-2-1l-2-2.5l-.5-2l.5-1l2-1l2-2.5l0-8l-1.5-2.5l-2-1.5l2-1.5l1-2l1.5-.5l2-2.5l0-3.5l1.5-2l0-3l-.5-1l-2-1.5l-3.5 0l-2 1.5l-1.5 3l-3.5 1l-1.5 1.5l-1.5 .5l-2 2.5l-1 0l-1.5-1l-3 0l-1 .5l-1.5 2l0 5l1 2l-2 3l0 3.5l.5 .5l0 4.5l-.5 .5l.5 9l-.5 .5l0 6.5l-.5 .5l0 3.5l1 1.5l0 3l-1.5 2l0 9l-.5 .5l0 8l.5 .5l0 2.5l-1 2l0 4l.5 .5l-.5 5l-1 1.5l0 3.5l.5 .5l-.5 10.5l.5 .5l0 2l-2 4l0 3.5l1 1.5l0 1l-1.5 2.5l0 4l.5 .5l-.5 .5l0 4l1 2l-1 1.5l-.5 3l-.5 .5l-1.5 0l-1-1.5l0-4.5l-1.5-3l0-3.5l-1.5-2.5l0-3l2-3l0-3l-1-1.5l.5-5.5l-2.5-3l0-4l1.5-2.5l0-3l-2-3l0-2.5l-.5-1l2.5-3.5l0-3l-2.5-5.5l0-3.5l-.5-.5l.5-5l-1-1.5l.5-8l-1.5-2.5l0-4l1-1.5l0-3.5l-.5-.5l0-10l-1.5-2.5l1-2.5l0-4l-.5-.5l.5-.5l0-4l-.5-.5l0-7.5l-.5-.5l0-2l.5-.5l0-6.5l-.5-1l-2-1.5l1-2l0-3.5l-1.5-2l-1-.5l-3.5 0l-2 1l-3-1.5zM32 390.5l.5 .5l0 1.5l-1.5 1l-1 0l-.5-1.5l1.5-1.5zM51 331l.5 .5l0 1.5l-1.5 1.5l-1.5-2l1-1.5zM40 319l0 1l-2 1l-2 2l-1 2l-1 0l-3.5-2l.5-1.5l3.5-1l1-1.5l1.5-1l1.5 0zM35 299l0-2.5l1-1.5l1.5 .5l6.5 0l2.5 1.5l-2.5 2l-2.5 0l-3 2l-2.5-.5zM-27.5 292l.5-.5l1.5 0l2 1.5l0 1l-1.5 .5l-2-1zM20 224.5l.5-1.5l1 0l1.5 1l-1.5 1zM23 164.5l-8.5-.5l-2 1l-2 2.5l0 3l1 1.5l.5 4l-1.5 2l0 4l1 1.5l0 1l-1 1l-.5 2.5l-1 1.5l0 3l1 1.5l-.5 .5l-.5 8.5l1 2l2 1.5l3 0l1-.5l1-1.5l3-2.5l2.5 .5l1.5 1l3 0l2.5-2l1.5-.5l2-2.5l0-3l-1-3l0-1.5l1-1.5l0-3.5l-.5-1l-2-1.5l0-1l1-.5l2-2.5l0-5l-.5-1l-2.5-2l-1.5-2.5l-3-1l-1-2zM22 175.5l1.5 1.5l0 1l-2.5 2l-1.5 0l-1-1.5l0-1l2-2zM-31 160l-1.5 2l0 3.5l.5 1l4.5 4l3 0l1-.5l1.5-2l0-3.5l-2-3l-2.5-2l-3.5 0zM-16 153l-1 .5l-2 2.5l.5 4.5l-1 1.5l0 3l1.5 2l2 1l3.5 0l1-.5l1.5-2l0-3.5l-1-1.5l.5-.5l0-4.5l-.5-1l-2-1.5zM-17.5 131.5l-2 1.5l-1 3l-2.5 2l-.5 1l0 3l1.5 2l2 1l1 2.5l2 2.5l1 .5l3 0l1-.5l1.5-2l0-3l-1-2l.5-7.5l-2.5-3.5l-1-.5z"/>
<path class="k" d="M-27 135h0m9.5 0h0m2-5h0m1 2.5h0m27.5-2.5h0m1.5 2.5h0m12 2.5h0m3.5 0h0m4-5h0m1.5 5h0m38-5h0m-111.5 8.5h0m17.5 1h0m6.5 0h0m1-2h0m26 2h0m1-2h0m13 0h0m1.5 2h0m36.5-3.5h0m11.5 3.5h0m-119 2h0m12.5 5.5h0m8-5.5h0m5 4h0m3-2h0m.5 2h0m.5 1.5h0m26-3.5h0m2.5-2h0m14 5.5h0m12.5-3.5h0m48 3.5h0m-138 1.5h0m21.5 3.5h0m10 0h0m2.5-3h0m27 0h0m4.5 3h0m7-1.5h0m-108.5 4.5h0m49.5 1.5h0m3-3h0m15 4h0m2.5-4h0m.5 1.5h0m.5 4h0m0-1.5h0m25.5-1h0m2-3h0m2 4h0m14.5 0h0m5 1.5h0m-65 2.5h0m.5-1h0m1.5 2h0m9 1.5h0m6 0h0m35.5-3.5h0m48 3h0m20-1.5h0m-176 3h0m53 0h0m5 5.5h0m1-2.5h0m.5-3h0m1 1h0m10 3h0m27 0h0m.5-1h0m2.5-2h0m7-1h0m4.5 6h0m-86.5 2.5h0m9.5 0h0m22.5 0h0m4 1.5h0m8-2h0m.5 .5h0m2.5-2h0m0 4h0m26-3.5h0m4 2h0m6-.5h0m7.5 1.5h0m7.5-2.5h0m-93.5 4.5h0m23.5 3.5h0m.5 .5h0m6 .5h0m2-1h0m9-.5h0m1.5 3h0m24.5-2.5h0m1-3.5h0m2.5 .5h0m1 4h0m6 .5h0m3-2.5h0m2 1.5h0m3.5-2h0m15.5 4h0m-95 5.5h0m24-1h0m8 1h0m1.5-1.5h0m2-3.5h0m25 4h0m18.5 .5h0m1.5-1h0m3.5 .5h0m16.5-1h0m7.5 1h0m5 1h0m-97.5 2h0m7 3h0m3-4h0m9 2h0m.5 3.5h0m1.5-3h0m23-1h0m1 2h0m17.5 1.5h0m28-3h0m16-.5h0m-141 8h0m16.5-1.5h0m3-2h0m22.5 .5h0m1 0h0m11 2.5h0m.5 1.5h0m25-2.5h0m0-1.5h0m10.5 4h0m9-1h0m1.5 1h0m13-2h0m15.5 1h0m4.5 1.5h0m15-2h0m-145 8h0m0-4.5h0m38 0h0m5.5 2h0m1-3h0m5.5 4h0m2.5 0h0m0 2h0m22-.5h0m.5-5.5h0m.5 1h0m2 2.5h0m3-3.5h0m9 .5h0m.5 5h0m14.5-4h0m19 4.5h0m2-2h0m1-.5h0m-123 8h0m13-2h0m24-2.5h0m7.5 4h0m2-3h0m2.5 1.5h0m22-2.5h0m0 3h0m1.5 1h0m1.5-2.5h0m17-.5h0m1.5 1.5h0m8 1.5h0m23.5-1.5h0m3-.5h0m-124.5 9h0m29-1.5h0m3-1.5h0m5.5-2.5h0m8.5 1.5h0m.5-2h0m22 4h0m1-2h0m1 3h0m7-1.5h0m3.5-2.5h0m8 3.5h0m20.5-1.5h0m-116 6.5h0m28.5-.5h0m4 .5h0m20.5 .5h0m0 1h0m0-4.5h0m22 1.5h0m.5 1.5h0m.5 2h0m5-1.5h0m4-3h0m5 1.5h0m8.5 2h0m6.5-3h0m5 4h0m80-3.5h0m-189 9h0m2.5-1h0m20.5-1.5h0m13.5-2h0m5 4.5h0m10.5-1h0m.5-1h0m20.5 1.5h0m.5-1h0m14-2.5h0m1 .5h0m2 2.5h0m0 1.5h0m27-.5h0m3 1h0m2.5-2h0m4-1h0m12.5-3h0m-133.5 7h0m22.5 3.5h0m8-1h0m15.5 0h0m.5-1.5h0m21 2.5h0m0-2.5h0m18.5 3.5h0m8.5 0h0m4-1.5h0m13-2h0m-112.5 5.5h0m14.5 2.5h0m11.5-.5h0m4 2.5h0m2-2h0m14.5-3h0m1.5 3h0m20-2h0m.5 4h0m12.5-3h0m15-1h0m12.5 4h0m11.5-4.5h0m-131 5h0m7.5 4.5h0m5-1h0m29-.5h0m17.5-1.5h0m0 .5h0m20 3h0m.5-1.5h0m0-3h0m14.5 2h0m6.5 1.5h0m6-4h0m25 .5h0m5.5 1h0m48 2h0m-182.5 6.5h0m26.5-3h0m11.5 2.5h0m3-1.5h0m4.5 3h0m11-5h0m.5 3h0m19.5 2h0m0-3.5h0m19 1h0m20.5 1h0m4-4h0m.5 2.5h0m3 2.5h0m-91 5.5h0m4-4h0m6 4h0m13.5-3h0m0 3.5h0m20-4.5h0m1 3.5h0m19.5 1.5h0m3-4h0m3.5-.5h0m19.5 4h0m8-3.5h0m-119 4.5h0m28 3.5h0m.5-1h0m17 1h0m.5-1.5h0m18 4h0m0-2.5h0m11.5 1.5h0m2.5-4h0m9 5h0m7.5-6h0m12 1h0m4.5 5h0m4.5-2h0m4-1.5h0m29.5 2h0m11 1.5h0m-165 .5h0m9.5 3.5h0m12.5 .5h0m7.5-2h0m1-1.5h0m6 3h0m14-3.5h0m1 5h0m17.5-3.5h0m15.5 1h0m2 0h0m10.5 1h0m13 .5h0m7-.5h0m12.5-1h0m-145.5 3.5h0m2 4h0m7.5-2.5h0m5.5 .5h0m2 1.5h0m4.5 1h0m1.5-5h0m3 0h0m0 2.5h0m19-.5h0m2-1h0m8 2h0m0 1h0m12-1.5h0m.5 3.5h0m17 0h0m.5-5.5h0m0 1.5h0m22.5-.5h0m.5 4.5h0m7-3h0m4 2.5h0m1.5-3.5h0m7.5 2h0m7.5-2.5h0m10.5-1.5h0m-116 8.5h0m14.5 2.5h0m1-4.5h0m4.5 4h0m4.5-3h0m14.5 3.5h0m16 .5h0m0-2.5h0m23 .5h0m15.5 0h0m5 .5h0m1.5 1h0m4 0h0m11.5-2.5h0m-121 4h0m4 2.5h0m14-1.5h0m4 3.5h0m5-1h0m3 1.5h0m15.5-2.5h0m14 0h0m.5 3h0m26.5-4h0m5.5 2h0m7-2h0m3 1.5h0m8 1h0m7-3h0m2 3h0m2.5-1.5h0m60 0h0m-195.5 3.5h0m1 1h0m26.5 2h0m3-1.5h0m2 1.5h0m2 1.5h0m4 .5h0m18.5-4.5h0m.5 3.5h0m16-1h0m24.5 2h0m6.5-3.5h0m3.5 0h0m4.5 1h0m3.5-1h0m5.5-.5h0m8.5 3.5h0m-119.5 6.5h0m5.5-5h0m1 3.5h0m.5-3.5h0m9.5 2.5h0m9 2h0m7-4.5h0m17 3h0m12.5-2h0m.5 4h0m25-2h0m10 1h0m4.5-1h0m4.5 0h0m2.5 0h0m2.5-2.5h0m3.5 0h0m2 4h0m58 1h0m-186.5 2h0m8.5 3h0m0-1.5h0m1 .5h0m7 1.5h0m4.5-1.5h0m4.5-2h0m1 2h0m4.5-1h0m1.5 0h0m8.5 1.5h0m17.5-1.5h0m15.5 2h0m0-4h0m29.5-.5h0m10.5 5h0m4.5-1h0m7-3.5h0m2 0h0m-126.5 9h0m8.5-3h0m1.5 1h0m4.5 2.5h0m3-4h0m6.5 3h0m8.5 .5h0m1.5-3.5h0m6 .5h0m18.5 .5h0m2.5 2.5h0m11.5-3.5h0m.5 3.5h0m36 0h0m8-3h0m1-1h0m2 3h0m5 0h0m4.5 0h0m8.5-1.5h0m-134 8h0m3 0h0m12.5-1.5h0m0 2h0m7.5-2.5h0m11 .5h0m23.5 3h0m9-.5h0m2-3h0m25.5 2h0m5-3h0m3.5 .5h0m7.5 2.5h0m4.5-3h0m2.5 2.5h0m10-.5h0m-134 3.5h0m10.5 .5h0m12.5 2.5h0m38.5 .5h0m13.5-2h0m21 1h0m4 3h0m7-3h0m19.5 .5h0m.5 2h0m8 .5h0m33.5-5h0m-149.5 7h0m6 2h0m1 2h0m36-4h0m1.5 2.5h0m9.5-3h0m1 4.5h0m40.5-.5h0m3-4h0m4.5 1.5h0m9 1h0m.5 2h0m-134.5 4h0m13.5 2h0m.5-5h0m3.5 1h0m3 1.5h0m5.5 2.5h0m41.5-2.5h0m.5 2.5h0m8.5-5h0m0 .5h0m1 1.5h0m0 3.5h0m42-2.5h0m4.5-.5h0m5 2h0m1-4h0m33 0h0m-147.5 7h0m52.5 .5h0m8.5-.5h0m.5-1h0m40 1.5h0m8-.5h0m-106.5 6.5h0m2 2.5h0m53-4.5h0m46-.5h0m3 1.5h0m1.5 3.5h0m27.5-2.5h0m-129 7.5h0m96-1.5h0m63-1h0m51 2h0m-269.5 4h0m55 3.5h0m6-2.5h0m91 3h0m2.5-5.5h0m2 3.5h0m12.5 2.5h0m9.5-3h0m15-2.5h0m10 2.5h0m7.5 2.5h0m17.5 0h0m20.5-4h0m-194 5.5h0m9.5 1h0m87.5 2h0m7 .5h0m1-2.5h0m1.5-1.5h0m-111 7.5h0m13.5-2h0m5 2.5h0m3 2.5h0m77.5-2.5h0m1.5-2.5h0m118.5 1h0m-304.5 7h0m48.5 0h0m31 3h0m7.5-1h0m20-1.5h0m78.5 0h0m9.5 2.5h0m3-4h0m-97.5 9h0m2.5 0h0m1.5-4h0m2.5 4.5h0m6.5 .5h0m67-3h0m4 3.5h0m35.5-2h0m-119.5 8h0m14-4h0m1.5 2h0m2.5 2h0m53.5-3.5h0m5-1.5h0m8 2.5h0m7.5-1.5h0m1 2.5h0m-82.5 4.5h0m4.5 3h0m5.5-1h0m52.5-1h0m4.5 1.5h0m0-4h0m3.5 0h0m-69 6h0m1 1.5h0m9.5 2.5h0m50-.5h0m2.5-2h0m-53 6h0m6.5 2h0m32 0h0m3-3h0m1.5-.5h0m1.5-.5h0m-86 11h0m2.5 0h0m3-.5h0m1 0h0m3 0h0m1.5 0h0m2.5 0h0m2.5 0h0m2-.5h0m3 0h0m2-.5h0m3.5 0h0m2.5 0h0m2 0h0m3.5 0h0m3 0h0m5-.5h0m40.5 0h0m3.5 0h0m2.5 .5h0m4 .5h0m3 0h0m2-.5h0m4.5 0h0m2.5 .5h0m2.5 0h0m2 0h0m1.5 .5h0m3.5 0h0m2 0h0m3 .5h0m2.5 0h0m3.5 0h0m2.5 0h0m-253 1.5h0m20 0h0m17.5 0h0m6 0h0m6.5 0h0m8.5 0h0m17.5 0h0m5 0h0m10 0h0m12.5-.5h0m3 0h0m0 .5h0m3.5-.5h0m1.5 1h0m2-1.5h0m.5 1.5h0m2 0h0m.5-1.5h0m2.5 1.5h0m2-1.5h0m1.5 2h0m3 0h0m3 0h0m4 .5h0m4 .5h0m3.5 0h0m3 0h0m2 0h0m3.5 .5h0m1.5 0h0m3.5 0h0m3.5 0h0m3 .5h0m.5 0h0m4 0h0m2 0h0m2.5 0h0m2.5 0h0m1-.5h0m4 .5h0m3.5 0h0m1.5 0h0m3.5 0h0m3 0h0m3 0h0m2-.5h0m4 .5h0m3.5 0h0m3.5 0h0m3 0h0m3.5 0h0m3.5 0h0m1.5 0h0m2.5-.5h0m2.5 0h0m3 0h0m1.5-.5h0m3 0h0m4 0h0m2.5 0h0m4.5 0h0m4-.5h0m1.5 0h0m3.5-.5h0m1.5 0h0m3.5 0h0m2.5-2h0m0 1.5h0m2 0h0m2-1.5h0m1 1.5h0m1.5 0h0m.5-1.5h0m3 1h0m1-.5h0m.5 1h0m2.5-1h0m.5 .5h0m.5-.5h0m2.5 .5h0m2-.5h0m1 0h0m.5 .5h0m2.5 0h0m3 0h0m2.5-.5h0m.5 .5h0m33.5 0h0m6.5 0h0m10 0h0m16 0h0m26 0h0"/>
</g>
<g id="de">
<path class="cr" d="M-19 113l-1 .5l-1.5 2l0 1.5l-1 1.5l0 3l4.5 5l1 .5l3 0l1-.5l1.5-2l.5-4.5l-2-3l-.5-2.5l-2-1.5z"/>
<path class="r" d="M-62.5 20.5h0m11.5 0h0m10.5 1h0m4.5 0h0m5 0h0m4 0h0m2.5 0h0m3 0h0m3.5 0h0m3 0h0m27 0h0m3.5 0h0m2.5 0h0m3 0h0m2 0h0m2 0h0m3.5 0h0m5.5 0h0m5 0h0m3.5 0h0m4.5 0h0m4 0h0m4.5 0h0m5 0h0m4 0h0m5.5 0h0m3 0h0m6 0h0m3 0h0m5 0h0m5 0h0m3 0h0m5.5 0h0m4 0h0m4.5 0h0m3 0h0m3.5 0h0m2 0h0m5.5 0h0m3.5 0h0m2 0h0m5.5 0h0m2 0h0m10.5 0h0m-199 29h0m33-1h0m3.5 0h0m32.5 0h0m5 0h0m1.5 0h0m11 1h0m65.5 0h0m38.5 0h0m-154 15h0m.5 0h0m30.5 0h0m5 0h0m6 0h0m29-.5h0m18 0h0m24 0h0m10 0h0m-136.5 12h0m7.5 0h0m3.5 0h0m33.5 0h0m6 0h0m8.5 0h0m2 0h0m36.5-.5h0m14 0h0m-106.5 9.5h0m8 0h0m1 0h0m31.5 0h0m3.5 0h0m16 0h0m3 0h0m62-3.5h0m-164 9h0m144 0h0m16.5-4h0m-144 11.5h0m27.5-5.5h0m34 0h0m3.5 0h0m-52 8h0m17.5-2h0m2 0h0m30 0h0m10.5 0h0m2 0h0m34 2h0m-123.5 8h0m9-.5h0m29 .5h0m3.5-4.5h0m1 0h0m5 4.5h0m0-4.5h0m28 0h0m7 4.5h0m5-4.5h0m.5 4.5h0m6.5-4.5h0m-72 6.5h0m7 2.5h0m2.5 0h0m9 0h0m6 0h0m28.5 0h0m16 0h0m1.5 0h0m63-.5h0m-129 4h0m9.5 3.5h0m4 0h0m5.5-3.5h0m2 3.5h0m27-3.5h0m.5 3.5h0m.5 0h0m1-3.5h0m61.5 5h0m-124 2.5h0m22.5 2h0m0-2.5h0m8 0h0m2.5 0h0m27.5 0h0m1 0h0m.5 2.5h0m3.5 0h0m.5 0h0m18 1h0m.5-3.5h0"/>
<path class="c" d="M58 315l-1 .5l-1.5 2l0 4.5l.5 1l2 1.5l3 0l3-2.5l.5-1l0-3l-.5-1l-2.5-2zM-60.5 283.5l-1 .5l-1.5 2l0 3.5l.5 1l2 1.5l3 0l1-.5l1.5-2l0-3.5l-.5-1l-2-1.5zM58 270.5l-1 .5l-1.5 2l0 3l.5 1l2 1.5l3 0l1-.5l1.5-2l0-3l-.5-1l-2-1.5zM55 239.5l-1 .5l-2 2.5l0 3.5l2 3l1 .5l3 0l3-2.5l.5-1l0-3l-2-3l-1-.5zM64.5 229l-1 .5l-1.5 2l0 3l.5 1l2 1.5l3 0l1-.5l1.5-2l0-3l-.5-1l-2-1.5zM23 207l-1 .5l-1.5 2l0 3l.5 1l2 1.5l3 0l1-.5l1.5-2l0-3l-.5-1l-2-1.5zM-26.5 188l-1 .5l-1.5 2l0 3l1 2l2.5 2.5l2.5 .5l2.5 3l3 .5l3 2l-3 2.5l-1 3.5l-4 2.5l-.5 1l0 4l-3 3.5l0 5l-1.5 2l0 4l.5 .5l0 1.5l-.5 .5l0 5l.5 .5l0 1.5l-1 .5l-1.5 2l0 3l1.5 2l3 1l1 1.5l-1.5 2.5l0 3l.5 1l-.5 1l-3.5 3l-.5 1l0 3.5l.5 1l2 1.5l0 1l-1.5 2l0 3.5l1.5 2l2 1l0 1l-2 2.5l0 4l-4.5 5l-1-3l-2-1.5l-3 0l-1.5 1l-1.5 0l-1.5-1l-3-5l1-.5l1.5-2l0-3l-3.5-4l-1-.5l-3 0l-2 1.5l-.5 1l0 3l2 2.5l0 1l-1 .5l-1.5 2l.5 5l-1.5 2l0 3l1.5 2.5l0 2l1 1.5l.5 3l2 1.5l1.5 2l-.5 .5l0 5l-4 5l0 3.5l1 1.5l0 1l-1.5 1l-1.5 2l0 4.5l1 1.5l-.5 7.5l1.5 2l3 1.5l0 4.5l-1 1.5l.5 4.5l-2 3l0 3.5l1.5 3l3 2l1 2.5l1 1l.5 3l2.5 3.5l.5 3l7 5.5l.5 2.5l3 4.5l0 1l-2 1l-1.5 2l0 3l1 2l3 2l1 4l1.5 1.5l1.5 .5l1.5 2l2.5 1l.5 1.5l-1.5 1l-3.5 0l-.5 .5l-14.5 0l-.5 .5l-7.5 0l-.5 .5l-6.5 0l-.5 .5l-2 0l-1 .5l-1.5 2l0 3l.5 1l2 1.5l7 0l.5 .5l7 0l.5 .5l13.5 0l.5 .5l63 0l.5-.5l28-1l1-.5l1.5-2l0-3l-.5-1l-2-1.5l-11.5-.5l-.5-.5l-10 0l-.5-.5l-17.5-.5l-1.5-1l.5-1.5l1-.5l2.5 0l4.5-3l.5-1l0-2.5l2-3l0-4.5l2-1l2-2.5l0-2l1-1.5l0-4.5l1-1.5l0-1l3-3.5l.5-1.5l4.5-3.5l.5-1l0-3.5l2.5-2l2-3.5l0-2l1-1.5l0-2.5l1.5-2.5l0-3l-2.5-3.5l0-2.5l-.5-1l-2.5-1.5l-2.5-3.5l0-1l2-2.5l0-3.5l.5-.5l1.5 0l1.5 1l-1 1.5l0 3.5l.5 1l2 1.5l1 3.5l2 1.5l3.5 0l2.5-2l1-3l2-2.5l0-3.5l-2-2.5l-1-.5l-5 .5l-1.5-1l1-3l0-3.5l-.5-1l-2.5-2l0-1.5l1-.5l1.5-2l0-2.5l.5-1l3-2.5l1.5-.5l2-2.5l0-3l-1-3l-1-1l-7-3l-3.5-4l-1-.5l-3 0l-1 .5l-3.5 4l-2.5 .5l-2 1.5l-.5 1l0 3l1 1.5l0 1l-2.5 2.5l-1 0l-1.5-3.5l-5-4.5l-1-2.5l2-4l2.5-.5l2-1.5l.5-1l-.5-5l1.5-1.5l.5-1.5l2-1l1.5-2l0-4l-1-2l-2-1.5l-3-.5l-.5-1.5l.5-.5l5 .5l1-.5l1.5-2l0-3l-2-2.5l-.5-1.5l-2-1.5l-3.5 0l-.5-.5l0-1l2-2.5l0-3l-.5-.5l.5-4.5l-.5-1l-2-1.5l-2.5-5l1.5-2l0-3l-1.5-2.5l.5-4l1-1.5l1 0l1.5 1l3.5 0l3.5-2l1.5-1.5l1-2.5l2-1.5l.5-1l0-3.5l-2-4.5l-2-1.5l-3 0l-2 1.5l-.5 1l0 5l-.5 .5l-1 0l-.5-1l-2-1.5l-3.5 0l-3 2l-3.5 0l-1-1l0-4l-.5-1l-2-1.5l-3.5 0l-2 1.5l-.5 2l-1.5 2.5l0 4l-.5 .5l0 4l.5 1l-.5 .5l-.5 9l2.5 3l-2.5 3l0 6l-.5 .5l0 3.5l.5 .5l-.5 .5l0 3.5l1 1.5l-1.5 2.5l0 4l.5 .5l-.5 6l-.5 .5l0 4l.5 .5l-.5 .5l0 4.5l.5 .5l-3 3.5l0 3.5l.5 .5l-.5 7.5l2 2.5l0 1l-3 4.5l0 3l2.5 3.5l-.5 1l0 3.5l-.5 .5l0 4l.5 .5l-3 5l.5 7l1 1.5l0 1.5l-2 2l-1.5 0l-.5-.5l.5-1.5l0-4l-1-1.5l0-2l-1-1.5l0-1.5l-1.5-2.5l0-4l2-2.5l-.5-8l-2.5-3.5l0-8l-1.5-2.5l.5-.5l0-4.5l1.5-2l0-3l-2-3l.5-1l-.5-15l-.5-.5l.5-1.5l0-4l-1-2.5l0-2.5l-1-1.5l1-3l0-15.5l-1-2.5l0-1.5l.5-.5l0-4l-.5-.5l.5-1l0-9l-1.5-2l0-1l1-1.5l0-3l-.5-1l-2.5-2l3-3.5l0-3.5l-1-1.5l-.5-2.5l-2.5-2l-3.5 0l-3 2l-1.5-3l-2.5-2zM-.5 352.5l1.5-.5l.5 .5l0 1.5l-1.5 .5l-.5-.5zM-27 320l1 .5l1 1.5l-1 2l-2-.5l-1-1.5l.5-1zM31.5 319l1.5-.5l.5 1.5l-1.5 .5zM-35 309.5l1 1.5l-.5 2l-1.5 1l-1.5-1l0-2l1-1.5zM-31.5 292.5l0 2.5l1 1.5l0 2.5l-5 3l-1.5 0l-2.5-2l-3-1l-1-1.5l2-2.5l1 0l1.5 1l3 0l1-.5l3-3.5zM14.5 239l2-1.5l3.5 0l1 1.5l-2 1.5l-2.5 0zM-16 174.5l-1 .5l-1.5 2l0 4l.5 .5l-.5 .5l0 3l1.5 2l2 1l3 0l1-.5l1.5-2l.5-5.5l-1.5-3.5l-2.5-2zM28.5 170l-3 0l-2.5 2l-1.5 3l0 1l-1.5 2l-1.5 0l-3-2.5l-3 0l-1 .5l-1.5 2l0 3l.5 .5l0 2l-1 1.5l0 11l.5 .5l-1 3l-.5 7l.5 1l2 1.5l3 0l1-.5l3-3.5l3.5 0l2-1.5l1-2.5l3-1.5l1.5-1.5l.5-1.5l1-.5l2-2.5l0-3l-.5-1l-2-1.5l-1-2.5l-2-2.5l0-1l1.5-1.5l2.5-4.5l0-3.5l-.5-1zM-26.5 157.5l-3.5 2.5l-2 0l-2 1l-1.5 2l0 3.5l1.5 3.5l1 1l2.5 .5l3 2l3 0l1-.5l1.5-2l0-4.5l1.5-3.5l0-3l-.5-1l-2-1.5zM-16.5 154l-1 .5l-1.5 2l0 3l.5 1l2 1.5l3 0l1-.5l1.5-2l0-3l-.5-1l-2-1.5zM-26 137.5l-1.5 2l0 3l.5 1l2 1.5l3.5 0l1-.5l1.5-2l0-3l-.5-1l-2-1.5l-3.5 0zM30.5 131.5l-1-.5l-3 0l-3 1.5l-1.5 2l0 4l-1.5 1l-3 .5l-2 2.5l-2 .5l-2 1.5l-.5 1l0 4.5l-.5 .5l0 7l1.5 2l1 .5l3 0l1.5-1l4 0l1-.5l1.5-2l0-3l-1.5-2l0-1l1.5-1l1 0l2.5 1.5l3 0l2-1.5l.5-1l0-3.5l-2-3l2-3l0-4z"/>
<path class="k" d="M-54 132.5h0m28 2.5h0m8-5h0m2 5h0m1.5-2.5h0m1 2.5h0m26.5-2.5h0m1 0h0m2.5 2.5h0m7 0h0m5-5h0m4 0h0m33.5 4h0m-139.5 1.5h0m48 2h0m6 2h0m51-2h0m39 0h0m-95.5 4h0m2.5 2h0m7.5 2h0m1-2h0m.5 2h0m27 1.5h0m0-1.5h0m5.5-4h0m4.5 0h0m1 5.5h0m4-5.5h0m3.5 5.5h0m3-1.5h0m3.5-2h0m8 2h0m30.5-2h0m-109.5 4h0m3 3h0m3-1.5h0m11 3h0m28.5 0h0m6.5-1.5h0m9.5-1.5h0m11 3h0m47-2h0m-142 7.5h0m29.5 1.5h0m7.5 0h0m2.5-2.5h0m2 1h0m.5-2.5h0m25.5 1.5h0m3.5 0h0m4 0h0m3-1.5h0m3 2.5h0m7.5 0h0m61 0h0m-158 5h0m22-2h0m6 2h0m5 0h0m7 1.5h0m10-3.5h0m26 0h0m13 2h0m2.5-2h0m7 0h0m38.5 1.5h0m-106 8h0m0-4h0m5.5 4.5h0m2.5-1.5h0m8-2h0m3 0h0m1 1h0m0 2h0m26-.5h0m2-2.5h0m0 2.5h0m1-2.5h0m6.5 2h0m1.5-2h0m1 2h0m3-4h0m5 5h0m15-5h0m-93.5 7h0m10.5 3.5h0m10-3h0m1 0h0m10-.5h0m.5 3h0m25 1.5h0m1.5-3.5h0m0 2h0m10.5 1h0m3.5-3h0m2 1.5h0m17 0h0m16-1.5h0m-79.5 5h0m1.5 3.5h0m2.5-4h0m.5 2h0m1 2h0m24-2.5h0m.5 3h0m2-3.5h0m2 2h0m4.5 0h0m5-2h0m-67 7h0m2.5-.5h0m3.5 0h0m10.5-1.5h0m0 1.5h0m8-1h0m3 3h0m.5 .5h0m1-2h0m23.5 1h0m12.5-2h0m2.5 3h0m14-.5h0m-70 4.5h0m3.5-.5h0m.5 3.5h0m2-5.5h0m2 5.5h0m6-1h0m3 1.5h0m24-1h0m0-4h0m0 1.5h0m18 1.5h0m.5-1.5h0m7-1h0m1.5 4.5h0m-62.5 1h0m8.5 4h0m3.5 0h0m.5-1.5h0m23 .5h0m.5-2h0m14 .5h0m29.5-1.5h0m31 2.5h0m-110.5 8h0m0 .5h0m2.5-3.5h0m8 2.5h0m1.5 0h0m22.5-.5h0m.5-4h0m2.5 4h0m.5-1h0m3.5-2.5h0m3.5-.5h0m1 5.5h0m7-2h0m34.5-1.5h0m6.5 2.5h0m-132 3h0m13 .5h0m19.5 .5h0m3-2h0m.5 2.5h0m10-2h0m4.5 .5h0m22-1h0m.5 3.5h0m2 .5h0m8.5 .5h0m4-3.5h0m9-.5h0m1.5-.5h0m3.5 3.5h0m9.5-1.5h0m14.5 0h0m.5 2.5h0m17.5 0h0m-147.5 1h0m1 5h0m3.5 0h0m1.5-.5h0m7-1h0m12.5-1.5h0m4.5 0h0m14.5-2h0m.5 3.5h0m10 1.5h0m0-3h0m21.5 2h0m5-3.5h0m11.5 1h0m2.5-.5h0m5.5 .5h0m4 1h0m2 3h0m-76.5 2.5h0m6.5-1h0m1.5 .5h0m4 3.5h0m12.5-3h0m21 1.5h0m.5-3.5h0m6.5 .5h0m5 .5h0m9 1h0m6 2.5h0m25.5-2h0m57.5-1h0m-181 6.5h0m2.5 .5h0m20-1.5h0m2.5 2.5h0m5.5 .5h0m4 0h0m14.5-1h0m.5-3.5h0m.5 2h0m21 1.5h0m.5-2.5h0m14 3.5h0m.5-3h0m7.5 2h0m1 2.5h0m17-3.5h0m6.5 1h0m10-.5h0m-133.5 6h0m6-1h0m2.5-1.5h0m14 1.5h0m18.5 3h0m14.5-3h0m.5 2.5h0m20-1.5h0m.5 1h0m0-2.5h0m6.5 2.5h0m1-.5h0m6.5-3h0m8.5 0h0m3 4.5h0m25.5-4h0m2.5 2.5h0m3.5-2.5h0m0 3.5h0m-125.5 7h0m17-2h0m8.5 0h0m7.5-2.5h0m15 1h0m20 4h0m1-2h0m1-2.5h0m5.5 4.5h0m1.5 0h0m4.5-5.5h0m2 2.5h0m1-3h0m10.5 2.5h0m18 3.5h0m2.5-3h0m-88 4.5h0m3 3h0m2-3.5h0m2.5 3.5h0m13-.5h0m0-3.5h0m20 1h0m15.5-.5h0m1 2h0m8 1.5h0m1-1.5h0m2.5-.5h0m3 3h0m7-3.5h0m1 .5h0m7 1.5h0m5-2h0m52 2h0m-176 6h0m2.5-4h0m7.5 4h0m1-.5h0m9-3h0m20 5.5h0m1.5-2.5h0m11-3.5h0m.5 5.5h0m19.5 0h0m.5-4h0m.5-1.5h0m19.5 0h0m0 6h0m26.5-6h0m.5 3h0m18.5-.5h0m4.5 2.5h0m-145 4h0m7.5 0h0m20.5 1.5h0m4 1h0m10.5-1.5h0m13-.5h0m.5 2h0m19-.5h0m.5-3.5h0m17.5 0h0m10.5-1h0m3.5 5h0m4-4.5h0m16.5 0h0m-119 6h0m15 5h0m10-5h0m1.5 3h0m5.5-3h0m15-.5h0m.5 4.5h0m18-4.5h0m1 2h0m17-2.5h0m6.5 1h0m2.5 4.5h0m5.5-1h0m13.5 .5h0m0 1h0m3.5-4h0m7 3.5h0m0-3.5h0m29 4h0m11-1.5h0m-155.5 7h0m13-1.5h0m11.5 1.5h0m1.5-5h0m15 2h0m18 3h0m0-3h0m.5-1h0m.5-1h0m18.5 1.5h0m7 1.5h0m12.5 1.5h0m.5-1.5h0m1.5-2.5h0m17 0h0m1.5 1h0m-169 7.5h0m42.5-.5h0m8 0h0m2-2.5h0m5 3.5h0m3-2.5h0m9.5 3.5h0m1-1.5h0m1.5-1h0m.5-1h0m4 1.5h0m14.5-3h0m0 3h0m.5 1.5h0m17 .5h0m.5-3.5h0m19.5-.5h0m5.5 2.5h0m13.5 1h0m1.5-1h0m9-3h0m0 3h0m2-3.5h0m0 3h0m2-1.5h0m13.5-1.5h0m-134 11.5h0m2.5-2.5h0m4.5 2h0m4-4h0m1 .5h0m21.5 2.5h0m16-1.5h0m18-.5h0m21.5 2.5h0m3-3.5h0m3.5 .5h0m11 0h0m5.5-.5h0m-116 7.5h0m2 1h0m3 0h0m12.5-2h0m3.5 3.5h0m6-2.5h0m9.5 1.5h0m17.5 2h0m2.5-6h0m12 1.5h0m.5 4.5h0m24 0h0m15.5-1h0m4-1h0m13-2h0m15 1h0m45.5 0h0m-192 5h0m10.5 1.5h0m6-3h0m2 4.5h0m5.5-2h0m7.5 1h0m6.5-3h0m2.5 4.5h0m19-2.5h0m.5 2h0m14-1.5h0m1.5 1.5h0m16.5-1h0m7.5-1.5h0m1 2.5h0m12.5-3h0m3.5-1h0m6.5-.5h0m4.5 4h0m7.5-3.5h0m-154 11h0m27-3h0m7.5 2.5h0m6.5-.5h0m.5-3.5h0m4.5 3.5h0m9.5 1h0m2-.5h0m22-2.5h0m.5-2.5h0m15 4h0m15-4h0m.5 3.5h0m9.5-.5h0m1.5-1.5h0m5 2h0m4-2h0m5.5-.5h0m4.5 2.5h0m6 1.5h0m59.5 .5h0m-185.5 5.5h0m4-2h0m6 2h0m3.5-4h0m8 3.5h0m.5-2h0m8.5-1.5h0m2 2h0m27-3h0m2.5 5h0m9.5-2.5h0m1.5-2.5h0m19.5 1h0m3.5 2.5h0m9-3.5h0m22 5h0m-117.5 2.5h0m12 1.5h0m5.5-2h0m8.5 1.5h0m27 1.5h0m0 1h0m11.5-1h0m.5-4.5h0m0 3h0m29-2h0m17.5 0h0m1-.5h0m14 5.5h0m3.5-5h0m-123.5 7.5h0m3-2h0m12.5 1h0m8.5 .5h0m20 2.5h0m13.5-2h0m22 2h0m5-4h0m18.5 .5h0m5.5 1.5h0m3 0h0m3 2h0m6-3.5h0m-126 5.5h0m.5 2.5h0m7.5-.5h0m17-2.5h0m3 5.5h0m6-4h0m16 .5h0m1.5 2.5h0m9 .5h0m1.5-2.5h0m1.5-2.5h0m28.5 1h0m13-.5h0m6.5 2h0m5-1.5h0m20 2h0m16-2.5h0m-175 10h0m27.5-3.5h0m1 4h0m46.5-3h0m8.5-1.5h0m0 3h0m1 2h0m42.5-4h0m1.5 .5h0m2 0h0m9 3h0m1.5-3.5h0m1 .5h0m29.5 3.5h0m-174 4h0m30.5 2h0m0-2.5h0m48.5-3h0m6.5 5h0m39.5-3.5h0m6.5 2h0m3-2.5h0m5-.5h0m3 3h0m16-.5h0m-133.5 4h0m10.5 3h0m44-3.5h0m44 1.5h0m2.5 3.5h0m9.5-3h0m4 0h0m48.5-2h0m-192.5 7.5h0m38.5 2.5h0m1-4.5h0m48 4h0m46.5-3.5h0m6.5 0h0m1 3h0m23 2.5h0m38.5-1h0m-212 1.5h0m48 2.5h0m43.5-1h0m7 3h0m48-4h0m48 3h0m63.5 0h0m-250.5 7.5h0m7.5-2h0m7-.5h0m23-3h0m2.5 3.5h0m94.5 1h0m1-4h0m44 5h0m15-2.5h0m12.5-2.5h0m20 1h0m-263.5 7.5h0m80-1.5h0m89 0h0m15 1h0m-119 6h0m17-2h0m2.5 5h0m78-1h0m5-2h0m6.5 0h0m5-2.5h0m1.5 2h0m-214 9.5h0m75 0h0m31-2.5h0m9.5-.5h0m6 0h0m3 2.5h0m67 .5h0m2.5-4h0m.5-1h0m9.5 5h0m-101 3h0m1.5-1h0m21.5 1.5h0m2 3h0m62.5-.5h0m-96.5 1h0m27.5 3.5h0m67.5 .5h0m-64.5 2.5h0m2 3h0m59.5 1h0m6.5-5h0m.5 5h0m-64 5.5h0m55.5 1h0m-50 2h0m2 .5h0m38 1.5h0m5.5-2h0m-83.5 10h0m3 0h0m2.5 0h0m2-.5h0m3.5 0h0m4-.5h0m3 0h0m2 0h0m2.5 0h0m2-.5h0m1.5 0h0m3 0h0m3.5 0h0m3 0h0m2.5-.5h0m42 0h0m2.5 .5h0m4.5 0h0m2.5 0h0m3.5 0h0m2.5 0h0m2 0h0m3.5 .5h0m3.5 0h0m3.5 0h0m3.5 .5h0m2.5 0h0m1.5 0h0m3.5 .5h0m1.5 0h0m3 0h0m3.5 0h0m-260.5 1.5h0m45 0h0m7.5 0h0m8.5 0h0m6.5 0h0m5 0h0m18 0h0m16 0h0m2-.5h0m1.5 0h0m3.5 .5h0m0-.5h0m3 1h0m0-1h0m2 1h0m2-1h0m1 1h0m.5-1.5h0m1 1.5h0m2-1.5h0m1.5 2h0m1.5 0h0m0-2h0m3 0h0m0 2h0m3.5 0h0m2.5 .5h0m4 0h0m3.5 .5h0m1.5 0h0m3 0h0m3 0h0m1.5 0h0m3 .5h0m1 0h0m3 0h0m2.5 0h0m3 .5h0m2 0h0m3-.5h0m2.5 .5h0m4 0h0m3.5 0h0m3.5 0h0m3.5 0h0m2.5 0h0m2 0h0m2.5 0h0m4.5 0h0m2 0h0m2 0h0m3 0h0m2 0h0m2 0h0m3.5 0h0m3.5 0h0m3.5 0h0m2.5 0h0m2.5-.5h0m2 0h0m2 0h0m2-.5h0m2.5 0h0m2 0h0m3.5 0h0m3.5 0h0m1 0h0m1-.5h0m3.5 0h0m1.5 0h0m2.5-.5h0m2.5 0h0m3.5 0h0m1.5 0h0m3 0h0m1-2h0m1 0h0m1.5 1.5h0m2 0h0m.5-1h0m2.5 1h0m.5-1h0m1.5 0h0m1 .5h0m2-.5h0m3.5 .5h0m1.5 0h0m2-.5h0m1.5 0h0m2 .5h0m3-.5h0m2 .5h0m1.5 0h0m3 0h0m3.5 0h0m3.5 0h0m19.5 0h0m5 0h0m5 0h0m15 0h0m6.5 0h0m5 0h0"/>
</g>
<g id="df">
<path class="c" d="M56 357.5l-1-.5l-3 0l-3.5 2l-1.5 2l0 3l.5 1l2 1.5l3 0l.5-.5l2.5 0l1-.5l1.5-2l0-3zM45 345.5l-1-.5l-4 0l-1 .5l-1.5 2l0 3l1 1.5l0 1l-1.5 .5l-.5-.5l0-3.5l-2-2.5l.5-4.5l-1.5-2l-2.5-.5l-2.5-1.5l-3.5 0l-1.5 1l-2.5 .5l-1 1l-1 3l-1 .5l-1.5 2l0 3.5l1 1.5l-1.5 2.5l0 3.5l-1 1.5l0 2.5l-1 1.5l0 5l-2 5l-1.5 .5l-1-2l-2.5-2l-3 0l-1 .5l-1.5 2l0 5l-1 1.5l-1.5-.5l-1-3l-2-1.5l-3 0l-1 .5l-1.5 2l-1 0l-1.5-2l-.5-2l1.5-2.5l.5 1l2 1.5l3 0l1-.5l1.5-2l0-3l-.5-1l-2-1.5l-3 0l-1 .5l-1.5 2l-.5-1l-2-1.5l-1-2l.5-5.5l-4-6l-1-.5l-4 0l-1.5-3l-2-1.5l-3 0l-1 .5l-1.5 2.5l-1.5 1l-6.5 1l-1.5 2l0 3l2 2.5l-.5 1.5l-1.5 0l-2.5-1.5l-3 0l-3.5 2l-3 3.5l0 3l1.5 2l2.5 .5l1.5 1l-.5 3.5l-2 3l0 3.5l1.5 2.5l0 1.5l1.5 2l4.5 1.5l3 5l4.5 4.5l2.5 1l2.5 3l2 1l5.5 5l3.5 2l1 1l0 1l-1.5 1l-6 0l-.5 .5l-25 .5l-3 1l-4 0l-1 .5l-1.5 2l0 3l.5 1l2 1.5l15 .5l.5 .5l11 0l.5 .5l59.5 0l.5-.5l13 0l.5-.5l17.5-.5l1-.5l1.5-2l0-3.5l-.5-1l-2-1.5l-10.5 0l-.5-.5l-8 0l-.5-.5l-13.5 0l-.5-.5l-5.5 0l-1.5-1l0-1l2.5-2.5l1.5-.5l4.5-4l1.5-.5l3-3l1.5-.5l5-4.5l.5-3l1-1.5l1-.5l3 0l3.5-2l1.5-2l0-3.5l1-.5l3-3.5l0-3.5l-.5-1l-4-3.5l-2.5-1l-1-1.5l-.5-2.5l-1-1l-3-1l-1-1.5l1-2l4 0l2-1.5l2.5-4.5l0-3z"/>
<path class="k" d="M-41.5 314.5h0m9 5h0m8.5-1.5h0m53.5-1h0m15 4h0m-114.5 7h0m46.5 3.5h0m32-3.5h0m19 4h0m4.5 0h0m11.5 0h0m-99 4.5h0m3-1.5h0m12.5 1.5h0m11-1.5h0m2.5 1h0m63 2.5h0m-112.5 1h0m29 1h0m4.5 1h0m10.5 2h0m53.5-2h0m5.5-1h0m5 2h0m1.5 .5h0m5.5-3h0m16 4.5h0m-110 2h0m5-1.5h0m2 5.5h0m6-4.5h0m12.5 0h0m2.5-.5h0m.5 3.5h0m44.5-1.5h0m16 3h0m5.5-4h0m.5 3h0m2-2h0m2 .5h0m55.5-1.5h0m-151.5 6.5h0m1.5-1h0m6.5-.5h0m4 2h0m1 1h0m1-2h0m5-.5h0m13 0h0m1 .5h0m37.5 2.5h0m1.5-2.5h0m17 4h0m2.5 0h0m5.5-2.5h0m1.5-2.5h0m5.5 2.5h0m-211 8h0m85.5-.5h0m24.5 1h0m3.5-2.5h0m2.5 2h0m6-1.5h0m21.5-3h0m11 5.5h0m10.5 0h0m11.5-2h0m.5-1h0m.5-2.5h0m18.5 4h0m8-3h0m.5 3h0m.5-2h0m7.5-.5h0m1-1.5h0m1.5 5h0m6-1h0m-116.5 3.5h0m2 3h0m6-.5h0m30-3.5h0m5.5 3.5h0m5-3h0m.5 3.5h0m.5-2.5h0m.5-1h0m9 3.5h0m1-3.5h0m1 1.5h0m1-2.5h0m9 2h0m0-.5h0m.5-1h0m26 1.5h0m7.5-1.5h0m5 .5h0m-128 9.5h0m26.5-1h0m31-1h0m8 .5h0m2.5 1h0m8.5-4h0m0 4.5h0m2.5-5h0m.5 2.5h0m.5 3h0m7.5-2h0m1-2.5h0m28 1h0m2.5 1h0m3 2.5h0m-124.5 3.5h0m24.5 0h0m36.5-2h0m.5 1h0m7.5-1.5h0m2 1h0m7.5 3h0m.5-1.5h0m45 .5h0m4.5-2h0m-100 6.5h0m1.5 1h0m2.5 .5h0m84.5 2.5h0m1.5-.5h0m2.5-4.5h0m3.5 4.5h0m-105.5 5h0m16.5-3.5h0m2 3h0m1.5 1.5h0m72.5-1h0m-71 2.5h0m1.5 1h0m3.5 3h0m1.5 1h0m60-2.5h0m1.5-1.5h0m2.5-2h0m-61.5 8h0m2.5 2h0m1 1h0m43 .5h0m1-.5h0m2-2h0m3-2h0m1-.5h0m-48.5 5.5h0m1.5 1h0m2.5 2h0m34.5-1h0m-84.5 9.5h0m2.5 0h0m2.5 0h0m2 0h0m3 0h0m1 0h0m3.5-.5h0m2.5-.5h0m2.5 .5h0m3-.5h0m3.5 0h0m3-.5h0m3 0h0m3 0h0m3.5 0h0m3.5 0h0m6-.5h0m37.5 0h0m4 .5h0m1 0h0m3 0h0m1 0h0m3.5 0h0m2.5 0h0m1.5 0h0m2.5 .5h0m3.5 0h0m3 0h0m2 0h0m3.5 .5h0m3 0h0m4 .5h0m1 0h0m-237.5 1.5h0m6.5 0h0m6 0h0m52.5 0h0m7.5 0h0m7 0h0m7.5 0h0m5 0h0m6 0h0m.5-.5h0m3 1h0m1-.5h0m.5-.5h0m.5 0h0m1.5-.5h0m3 0h0m1 1.5h0m2-1.5h0m.5 1.5h0m4 .5h0m1 0h0m3.5 0h0m3 .5h0m.5 0h0m3.5 0h0m2.5 .5h0m3 0h0m2.5 0h0m3.5 0h0m1 .5h0m2.5 0h0m4 0h0m3 0h0m3.5 .5h0m2.5 0h0m2 0h0m2 0h0m2.5 0h0m1.5 0h0m4 0h0m1 0h0m3 0h0m2 0h0m3.5 0h0m3.5 0h0m3.5 0h0m.5 0h0m3.5-.5h0m3.5 .5h0m2.5 0h0m2 0h0m3.5 0h0m.5 0h0m3.5 0h0m2-.5h0m3 0h0m2 0h0m3 0h0m2 0h0m4 0h0m3.5-.5h0m4-.5h0m2 0h0m3 0h0m2.5 0h0m1.5 0h0m1-.5h0m3.5-2h0m0 2h0m2-2h0m1.5 2h0m.5-2h0m2.5 2h0m1-2h0m2 1.5h0m12-.5h0m17.5 0h0m7.5 0h0m7.5 0h0m14.5 0h0m7.5 0h0m7.5 0h0m10 0h0m20 0h0"/>
</g>
</defs>
<rect width="2350" height="2079" fill="#fff"/>
<g filter="url(#bl)">
<rect x="171.8" y="33.8" width="429.8" height="70.4" fill="#cdcdcd" stroke="#979797" stroke-width="4"/>
<text class="st" x="385.7" y="87.5" text-anchor="middle">control_0h</text>
<rect x="618.2" y="33.8" width="430" height="70.4" fill="#cdcdcd" stroke="#979797" stroke-width="4"/>
<text class="st" x="832.2" y="87.5" text-anchor="middle">control_24h</text>
<rect x="1066.8" y="33.8" width="429.6" height="70.4" fill="#cdcdcd" stroke="#979797" stroke-width="4"/>
<text class="st" x="1280.6" y="87.5" text-anchor="middle">LPS_2_24h</text>
<rect x="1516" y="33.8" width="427" height="70.4" fill="#cdcdcd" stroke="#979797" stroke-width="4"/>
<text class="st" x="1728.5" y="87.5" text-anchor="middle">LPS_8_24h</text>
<rect x="1943" y="104.2" width="71.4" height="434.6" fill="#cdcdcd" stroke="#979797" stroke-width="4"/>
<text class="st" transform="translate(1959.5 321.5) rotate(90)" text-anchor="middle">control_0h</text>
<rect x="1943" y="558" width="71.4" height="436" fill="#cdcdcd" stroke="#979797" stroke-width="4"/>
<text class="st" transform="translate(1959.5 776.5) rotate(90)" text-anchor="middle">control_24h</text>
<rect x="1943" y="1012.4" width="71.4" height="436.6" fill="#cdcdcd" stroke="#979797" stroke-width="4"/>
<text class="st" transform="translate(1959.5 1231.7) rotate(90)" text-anchor="middle">LPS_2_24h</text>
<rect x="1943" y="1467.9" width="71.4" height="433.9" fill="#cdcdcd" stroke="#979797" stroke-width="4"/>
<text class="st" transform="translate(1959.5 1684.8) rotate(90)" text-anchor="middle">LPS_8_24h</text>
<g>
<rect x="171.8" y="104.2" width="429.8" height="434.6" fill="#fff"/>
<path d="M239.4 104.2v434.6M337.1 104.2v434.6M434.8 104.2v434.6M532.5 104.2v434.6M171.8 474.4h429.8M171.8 382.4h429.8M171.8 290.2h429.8M171.8 198.2h429.8" stroke="#f7f7f7" stroke-width="2.5" fill="none"/>
<path d="M190.6 104.2v434.6M288.2 104.2v434.6M385.9 104.2v434.6M483.6 104.2v434.6M581.3 104.2v434.6M171.8 520.5h429.8M171.8 428.4h429.8M171.8 336.3h429.8M171.8 244.2h429.8M171.8 152.1h429.8" stroke="#e6e6e6" stroke-width="3.6" fill="none"/>
<rect x="171.8" y="104.2" width="429.8" height="434.6" fill="none" stroke="#8e8e8e" stroke-width="4"/>
</g>
<g>
<rect x="618.2" y="104.2" width="430" height="434.6" fill="#fff"/>
<path d="M687.2 104.2v434.6M784.9 104.2v434.6M882.6 104.2v434.6M980.2 104.2v434.6M618.2 474.4h430M618.2 382.4h430M618.2 290.2h430M618.2 198.2h430" stroke="#f7f7f7" stroke-width="2.5" fill="none"/>
<path d="M638.3 104.2v434.6M736 104.2v434.6M833.7 104.2v434.6M931.4 104.2v434.6M1029.1 104.2v434.6M618.2 520.5h430M618.2 428.4h430M618.2 336.3h430M618.2 244.2h430M618.2 152.1h430" stroke="#e6e6e6" stroke-width="3.6" fill="none"/>
<path d="M833.7 538.8V104.2" stroke="#111" stroke-width="5.5" stroke-dasharray="21 21" fill="none"/>
<g clip-path="url(#p01)"><use href="#da" transform="translate(833.7 103)"/></g>
<rect x="618.2" y="104.2" width="430" height="434.6" fill="none" stroke="#8e8e8e" stroke-width="4"/>
<path class="e" d="M619.8 195.3h0M619.8 343.4h0M619.8 391.9h0M619.8 413.6h0M619.8 435.5h0M619.8 442.9h0M619.8 450.4h0M619.8 457.9h0" stroke="#3f7fc4" stroke-width="4.6"/>
<path class="e" d="M1043.6 250h0M1043.6 287.4h0M1043.6 361.3h0M1043.6 410.6h0M1043.6 425.5h0M1043.6 436h0M1043.6 452.9h0M1043.6 459.1h0" stroke="#e08a3c" stroke-width="5"/>
<path class="e" d="M622.2 520.8h0" stroke="#20dce8" stroke-width="6"/>
<path class="e" d="M619.4 520.8h0" stroke="#101018" stroke-width="5"/>
<path class="e" d="M1041.7 520.8h0" stroke="#f0ea00" stroke-width="7"/>
<path class="e" d="M1044.8 520.8h0" stroke="#101008" stroke-width="6"/>
</g>
<g>
<rect x="1066.8" y="104.2" width="429.6" height="434.6" fill="#fff"/>
<path d="M1134.8 104.2v434.6M1232.5 104.2v434.6M1330.2 104.2v434.6M1427.9 104.2v434.6M1066.8 474.4h429.6M1066.8 382.4h429.6M1066.8 290.2h429.6M1066.8 198.2h429.6" stroke="#f7f7f7" stroke-width="2.5" fill="none"/>
<path d="M1085.9 104.2v434.6M1183.6 104.2v434.6M1281.3 104.2v434.6M1379 104.2v434.6M1476.8 104.2v434.6M1066.8 520.5h429.6M1066.8 428.4h429.6M1066.8 336.3h429.6M1066.8 244.2h429.6M1066.8 152.1h429.6" stroke="#e6e6e6" stroke-width="3.6" fill="none"/>
<path d="M1281.3 538.8V104.2" stroke="#111" stroke-width="5.5" stroke-dasharray="21 21" fill="none"/>
<g clip-path="url(#p02)"><use href="#db" transform="translate(1281.3 103)"/></g>
<rect x="1066.8" y="104.2" width="429.6" height="434.6" fill="none" stroke="#8e8e8e" stroke-width="4"/>
<path class="e" d="M1068.4 260.7h0M1068.4 324.7h0M1068.4 365.8h0M1068.4 395.6h0M1068.4 415.5h0M1068.4 445.4h0M1068.4 457.9h0" stroke="#3f7fc4" stroke-width="4.6"/>
<path class="e" d="M1491.8 179.9h0M1491.8 194.5h0M1491.8 205.2h0M1491.8 357.6h0M1491.8 391.2h0M1491.8 405.6h0M1491.8 411.8h0M1491.8 418h0M1491.8 437.9h0M1491.8 460.3h0" stroke="#e08a3c" stroke-width="5"/>
<path class="e" d="M1070.8 520.8h0" stroke="#20dce8" stroke-width="6"/>
<path class="e" d="M1068 520.8h0" stroke="#101018" stroke-width="5"/>
<path class="e" d="M1489.9 520.8h0" stroke="#f0ea00" stroke-width="7"/>
<path class="e" d="M1493 520.8h0" stroke="#101008" stroke-width="6"/>
<path class="e" d="M1492 124.7h0" stroke="#f01818" stroke-width="7"/>
</g>
<g>
<rect x="1516" y="104.2" width="427" height="434.6" fill="#fff"/>
<path d="M1582.5 104.2v434.6M1680.2 104.2v434.6M1777.8 104.2v434.6M1875.5 104.2v434.6M1516 474.4h427M1516 382.4h427M1516 290.2h427M1516 198.2h427" stroke="#f7f7f7" stroke-width="2.5" fill="none"/>
<path d="M1533.6 104.2v434.6M1631.3 104.2v434.6M1729 104.2v434.6M1826.7 104.2v434.6M1924.4 104.2v434.6M1516 520.5h427M1516 428.4h427M1516 336.3h427M1516 244.2h427M1516 152.1h427" stroke="#e6e6e6" stroke-width="3.6" fill="none"/>
<path d="M1729 538.8V104.2" stroke="#111" stroke-width="5.5" stroke-dasharray="21 21" fill="none"/>
<g clip-path="url(#p03)"><use href="#dc" transform="translate(1729 103)"/></g>
<rect x="1516" y="104.2" width="427" height="434.6" fill="none" stroke="#8e8e8e" stroke-width="4"/>
<path class="e" d="M1517.6 260.7h0M1517.6 324.7h0M1517.6 347.1h0M1517.6 369.5h0M1517.6 391.9h0M1517.6 417.5h0M1517.6 440.4h0M1517.6 460.3h0" stroke="#3f7fc4" stroke-width="4.6"/>
<path class="e" d="M1938.4 190.3h0M1938.4 216.4h0M1938.4 238.8h0M1938.4 313.5h0M1938.4 357.6h0M1938.4 413.1h0M1938.4 433h0M1938.4 459.1h0" stroke="#e08a3c" stroke-width="5"/>
<path class="e" d="M1520 520.8h0" stroke="#20dce8" stroke-width="6"/>
<path class="e" d="M1517.2 520.8h0" stroke="#101018" stroke-width="5"/>
<path class="e" d="M1936.5 520.8h0" stroke="#f0ea00" stroke-width="7"/>
<path class="e" d="M1939.6 520.8h0" stroke="#101008" stroke-width="6"/>
<path class="e" d="M1518.8 124.7h0" stroke="#e0409a" stroke-width="5"/>
<path class="e" d="M1517 124.7h0" stroke="#c01030" stroke-width="4.5"/>
<path class="e" d="M1938.6 124.7h0" stroke="#f01818" stroke-width="7"/>
</g>
<g>
<rect x="171.8" y="558" width="429.8" height="436" fill="#fff"/>
<path d="M239.4 558v436M337.1 558v436M434.8 558v436M532.5 558v436M171.8 928.9h429.8M171.8 836.8h429.8M171.8 744.6h429.8M171.8 652.5h429.8" stroke="#f7f7f7" stroke-width="2.5" fill="none"/>
<path d="M190.6 558v436M288.2 558v436M385.9 558v436M483.6 558v436M581.3 558v436M171.8 974.9h429.8M171.8 882.8h429.8M171.8 790.7h429.8M171.8 698.6h429.8M171.8 606.5h429.8" stroke="#e6e6e6" stroke-width="3.6" fill="none"/>
<path d="M385.9 994V558" stroke="#111" stroke-width="5.5" stroke-dasharray="21 21" fill="none"/>
<g clip-path="url(#p10)"><use href="#da" transform="translate(385.9 557.4) scale(-1 1)"/></g>
<rect x="171.8" y="558" width="429.8" height="436" fill="none" stroke="#8e8e8e" stroke-width="4"/>
<path class="e" d="M173.4 704.4h0M173.4 741.8h0M173.4 815.7h0M173.4 865h0M173.4 879.9h0M173.4 890.4h0M173.4 907.3h0M173.4 913.5h0" stroke="#3f7fc4" stroke-width="4.6"/>
<path class="e" d="M597 649.7h0M597 797.8h0M597 846.3h0M597 868h0M597 889.9h0M597 897.3h0M597 904.8h0M597 912.3h0" stroke="#e08a3c" stroke-width="5"/>
<path class="e" d="M175.8 975.2h0" stroke="#20dce8" stroke-width="6"/>
<path class="e" d="M173 975.2h0" stroke="#101018" stroke-width="5"/>
<path class="e" d="M595.1 975.2h0" stroke="#f0ea00" stroke-width="7"/>
<path class="e" d="M598.2 975.2h0" stroke="#101008" stroke-width="6"/>
</g>
<g>
<rect x="618.2" y="558" width="430" height="436" fill="#fff"/>
<path d="M687.2 558v436M784.9 558v436M882.6 558v436M980.2 558v436M618.2 928.9h430M618.2 836.8h430M618.2 744.6h430M618.2 652.5h430" stroke="#f7f7f7" stroke-width="2.5" fill="none"/>
<path d="M638.3 558v436M736 558v436M833.7 558v436M931.4 558v436M1029.1 558v436M618.2 974.9h430M618.2 882.8h430M618.2 790.7h430M618.2 698.6h430M618.2 606.5h430" stroke="#e6e6e6" stroke-width="3.6" fill="none"/>
<rect x="618.2" y="558" width="430" height="436" fill="none" stroke="#8e8e8e" stroke-width="4"/>
</g>
<g>
<rect x="1066.8" y="558" width="429.6" height="436" fill="#fff"/>
<path d="M1134.8 558v436M1232.5 558v436M1330.2 558v436M1427.9 558v436M1066.8 928.9h429.6M1066.8 836.8h429.6M1066.8 744.6h429.6M1066.8 652.5h429.6" stroke="#f7f7f7" stroke-width="2.5" fill="none"/>
<path d="M1085.9 558v436M1183.6 558v436M1281.3 558v436M1379 558v436M1476.8 558v436M1066.8 974.9h429.6M1066.8 882.8h429.6M1066.8 790.7h429.6M1066.8 698.6h429.6M1066.8 606.5h429.6" stroke="#e6e6e6" stroke-width="3.6" fill="none"/>
<path d="M1281.3 994V558" stroke="#111" stroke-width="5.5" stroke-dasharray="21 21" fill="none"/>
<g clip-path="url(#p12)"><use href="#dd" transform="translate(1281.3 557.4)"/></g>
<rect x="1066.8" y="558" width="429.6" height="436" fill="none" stroke="#8e8e8e" stroke-width="4"/>
<path class="e" d="M1068.4 607.7h0M1068.4 648.7h0M1068.4 793.1h0M1068.4 804.3h0M1068.4 864h0M1068.4 886.4h0M1068.4 905.1h0" stroke="#3f7fc4" stroke-width="4.6"/>
<path class="e" d="M1491.8 645h0M1491.8 800.6h0M1491.8 806.8h0M1491.8 813h0M1491.8 845.4h0M1491.8 864h0M1491.8 892.6h0M1491.8 907.6h0" stroke="#e08a3c" stroke-width="5"/>
<path class="e" d="M1070.8 975.2h0" stroke="#20dce8" stroke-width="6"/>
<path class="e" d="M1068 975.2h0" stroke="#101018" stroke-width="5"/>
<path class="e" d="M1489.9 975.2h0" stroke="#f0ea00" stroke-width="7"/>
<path class="e" d="M1493 975.2h0" stroke="#101008" stroke-width="6"/>
<path class="e" d="M1492 579.1h0" stroke="#f01818" stroke-width="7"/>
</g>
<g>
<rect x="1516" y="558" width="427" height="436" fill="#fff"/>
<path d="M1582.5 558v436M1680.2 558v436M1777.8 558v436M1875.5 558v436M1516 928.9h427M1516 836.8h427M1516 744.6h427M1516 652.5h427" stroke="#f7f7f7" stroke-width="2.5" fill="none"/>
<path d="M1533.6 558v436M1631.3 558v436M1729 558v436M1826.7 558v436M1924.4 558v436M1516 974.9h427M1516 882.8h427M1516 790.7h427M1516 698.6h427M1516 606.5h427" stroke="#e6e6e6" stroke-width="3.6" fill="none"/>
<path d="M1729 994V558" stroke="#111" stroke-width="5.5" stroke-dasharray="21 21" fill="none"/>
<g clip-path="url(#p13)"><use href="#de" transform="translate(1729 557.4)"/></g>
<rect x="1516" y="558" width="427" height="436" fill="none" stroke="#8e8e8e" stroke-width="4"/>
<path class="e" d="M1517.6 648.7h0M1517.6 770.7h0M1517.6 804.3h0M1517.6 819.2h0M1517.6 864h0M1517.6 879h0" stroke="#3f7fc4" stroke-width="4.6"/>
<path class="e" d="M1938.4 641.3h0M1938.4 656.2h0M1938.4 712.2h0M1938.4 755.8h0M1938.4 768.2h0M1938.4 830.4h0M1938.4 856.6h0M1938.4 872.7h0M1938.4 880.2h0M1938.4 887.7h0M1938.4 897.6h0" stroke="#e08a3c" stroke-width="5"/>
<path class="e" d="M1520 975.2h0" stroke="#20dce8" stroke-width="6"/>
<path class="e" d="M1517.2 975.2h0" stroke="#101018" stroke-width="5"/>
<path class="e" d="M1936.5 975.2h0" stroke="#f0ea00" stroke-width="7"/>
<path class="e" d="M1939.6 975.2h0" stroke="#101008" stroke-width="6"/>
<path class="e" d="M1518.8 579.1h0" stroke="#e0409a" stroke-width="5"/>
<path class="e" d="M1517 579.1h0" stroke="#c01030" stroke-width="4.5"/>
<path class="e" d="M1938.6 579.1h0" stroke="#f01818" stroke-width="7"/>
</g>
<g>
<rect x="171.8" y="1012.4" width="429.8" height="436.6" fill="#fff"/>
<path d="M239.4 1012.4v436.6M337.1 1012.4v436.6M434.8 1012.4v436.6M532.5 1012.4v436.6M171.8 1382.2h429.8M171.8 1290.2h429.8M171.8 1198h429.8M171.8 1106h429.8" stroke="#f7f7f7" stroke-width="2.5" fill="none"/>
<path d="M190.6 1012.4v436.6M288.2 1012.4v436.6M385.9 1012.4v436.6M483.6 1012.4v436.6M581.3 1012.4v436.6M171.8 1428.3h429.8M171.8 1336.2h429.8M171.8 1244.1h429.8M171.8 1152h429.8M171.8 1059.9h429.8" stroke="#e6e6e6" stroke-width="3.6" fill="none"/>
<path d="M385.9 1449V1012.4" stroke="#111" stroke-width="5.5" stroke-dasharray="21 21" fill="none"/>
<g clip-path="url(#p20)"><use href="#db" transform="translate(385.9 1010.8) scale(-1 1)"/></g>
<rect x="171.8" y="1012.4" width="429.8" height="436.6" fill="none" stroke="#8e8e8e" stroke-width="4"/>
<path class="e" d="M173.4 1087.7h0M173.4 1102.3h0M173.4 1113h0M173.4 1265.4h0M173.4 1299h0M173.4 1313.4h0M173.4 1319.6h0M173.4 1325.8h0M173.4 1345.7h0M173.4 1368.1h0" stroke="#3f7fc4" stroke-width="4.6"/>
<path class="e" d="M597 1168.5h0M597 1232.5h0M597 1273.6h0M597 1303.4h0M597 1323.3h0M597 1353.2h0M597 1365.7h0" stroke="#e08a3c" stroke-width="5"/>
<path class="e" d="M175.8 1428.6h0" stroke="#20dce8" stroke-width="6"/>
<path class="e" d="M173 1428.6h0" stroke="#101018" stroke-width="5"/>
<path class="e" d="M595.1 1428.6h0" stroke="#f0ea00" stroke-width="7"/>
<path class="e" d="M598.2 1428.6h0" stroke="#101008" stroke-width="6"/>
<path class="e" d="M174.6 1032.5h0" stroke="#e0409a" stroke-width="5"/>
<path class="e" d="M172.8 1032.5h0" stroke="#c01030" stroke-width="4.5"/>
</g>
<g>
<rect x="618.2" y="1012.4" width="430" height="436.6" fill="#fff"/>
<path d="M687.2 1012.4v436.6M784.9 1012.4v436.6M882.6 1012.4v436.6M980.2 1012.4v436.6M618.2 1382.2h430M618.2 1290.2h430M618.2 1198h430M618.2 1106h430" stroke="#f7f7f7" stroke-width="2.5" fill="none"/>
<path d="M638.3 1012.4v436.6M736 1012.4v436.6M833.7 1012.4v436.6M931.4 1012.4v436.6M1029.1 1012.4v436.6M618.2 1428.3h430M618.2 1336.2h430M618.2 1244.1h430M618.2 1152h430M618.2 1059.9h430" stroke="#e6e6e6" stroke-width="3.6" fill="none"/>
<path d="M833.7 1449V1012.4" stroke="#111" stroke-width="5.5" stroke-dasharray="21 21" fill="none"/>
<g clip-path="url(#p21)"><use href="#dd" transform="translate(833.7 1010.8) scale(-1 1)"/></g>
<rect x="618.2" y="1012.4" width="430" height="436.6" fill="none" stroke="#8e8e8e" stroke-width="4"/>
<path class="e" d="M619.8 1098.4h0M619.8 1254h0M619.8 1260.2h0M619.8 1266.4h0M619.8 1298.8h0M619.8 1317.4h0M619.8 1346h0M619.8 1361h0" stroke="#3f7fc4" stroke-width="4.6"/>
<path class="e" d="M1043.6 1061.1h0M1043.6 1102.1h0M1043.6 1246.5h0M1043.6 1257.7h0M1043.6 1317.4h0M1043.6 1339.8h0M1043.6 1358.5h0" stroke="#e08a3c" stroke-width="5"/>
<path class="e" d="M622.2 1428.6h0" stroke="#20dce8" stroke-width="6"/>
<path class="e" d="M619.4 1428.6h0" stroke="#101018" stroke-width="5"/>
<path class="e" d="M1041.7 1428.6h0" stroke="#f0ea00" stroke-width="7"/>
<path class="e" d="M1044.8 1428.6h0" stroke="#101008" stroke-width="6"/>
<path class="e" d="M621 1032.5h0" stroke="#e0409a" stroke-width="5"/>
<path class="e" d="M619.2 1032.5h0" stroke="#c01030" stroke-width="4.5"/>
</g>
<g>
<rect x="1066.8" y="1012.4" width="429.6" height="436.6" fill="#fff"/>
<path d="M1134.8 1012.4v436.6M1232.5 1012.4v436.6M1330.2 1012.4v436.6M1427.9 1012.4v436.6M1066.8 1382.2h429.6M1066.8 1290.2h429.6M1066.8 1198h429.6M1066.8 1106h429.6" stroke="#f7f7f7" stroke-width="2.5" fill="none"/>
<path d="M1085.9 1012.4v436.6M1183.6 1012.4v436.6M1281.3 1012.4v436.6M1379 1012.4v436.6M1476.8 1012.4v436.6M1066.8 1428.3h429.6M1066.8 1336.2h429.6M1066.8 1244.1h429.6M1066.8 1152h429.6M1066.8 1059.9h429.6" stroke="#e6e6e6" stroke-width="3.6" fill="none"/>
<rect x="1066.8" y="1012.4" width="429.6" height="436.6" fill="none" stroke="#8e8e8e" stroke-width="4"/>
</g>
<g>
<rect x="1516" y="1012.4" width="427" height="436.6" fill="#fff"/>
<path d="M1582.5 1012.4v436.6M1680.2 1012.4v436.6M1777.8 1012.4v436.6M1875.5 1012.4v436.6M1516 1382.2h427M1516 1290.2h427M1516 1198h427M1516 1106h427" stroke="#f7f7f7" stroke-width="2.5" fill="none"/>
<path d="M1533.6 1012.4v436.6M1631.3 1012.4v436.6M1729 1012.4v436.6M1826.7 1012.4v436.6M1924.4 1012.4v436.6M1516 1428.3h427M1516 1336.2h427M1516 1244.1h427M1516 1152h427M1516 1059.9h427" stroke="#e6e6e6" stroke-width="3.6" fill="none"/>
<path d="M1729 1449V1012.4" stroke="#111" stroke-width="5.5" stroke-dasharray="21 21" fill="none"/>
<g clip-path="url(#p23)"><use href="#df" transform="translate(1729 1010.8)"/></g>
<rect x="1516" y="1012.4" width="427" height="436.6" fill="none" stroke="#8e8e8e" stroke-width="4"/>
<path class="e" d="M1517.6 1315.2h0M1517.6 1331.4h0M1517.6 1350.1h0M1517.6 1368.7h0" stroke="#3f7fc4" stroke-width="4.6"/>
<path class="e" d="M1938.4 1284.1h0M1938.4 1310.3h0M1938.4 1331.4h0M1938.4 1366.3h0" stroke="#e08a3c" stroke-width="5"/>
<path class="e" d="M1520 1428.6h0" stroke="#20dce8" stroke-width="6"/>
<path class="e" d="M1517.2 1428.6h0" stroke="#101018" stroke-width="5"/>
<path class="e" d="M1936.5 1428.6h0" stroke="#f0ea00" stroke-width="7"/>
<path class="e" d="M1939.6 1428.6h0" stroke="#101008" stroke-width="6"/>
</g>
<g>
<rect x="171.8" y="1467.9" width="429.8" height="433.9" fill="#fff"/>
<path d="M239.4 1467.9v433.9M337.1 1467.9v433.9M434.8 1467.9v433.9M532.5 1467.9v433.9M171.8 1836h429.8M171.8 1743.8h429.8M171.8 1651.8h429.8M171.8 1559.7h429.8" stroke="#f7f7f7" stroke-width="2.5" fill="none"/>
<path d="M190.6 1467.9v433.9M288.2 1467.9v433.9M385.9 1467.9v433.9M483.6 1467.9v433.9M581.3 1467.9v433.9M171.8 1882h429.8M171.8 1789.9h429.8M171.8 1697.8h429.8M171.8 1605.7h429.8M171.8 1513.6h429.8" stroke="#e6e6e6" stroke-width="3.6" fill="none"/>
<path d="M385.9 1901.8V1467.9" stroke="#111" stroke-width="5.5" stroke-dasharray="21 21" fill="none"/>
<g clip-path="url(#p30)"><use href="#dc" transform="translate(385.9 1464.5) scale(-1 1)"/></g>
<rect x="171.8" y="1467.9" width="429.8" height="433.9" fill="none" stroke="#8e8e8e" stroke-width="4"/>
<path class="e" d="M173.4 1551.8h0M173.4 1577.9h0M173.4 1600.3h0M173.4 1675h0M173.4 1719.1h0M173.4 1774.6h0M173.4 1794.5h0M173.4 1820.6h0" stroke="#3f7fc4" stroke-width="4.6"/>
<path class="e" d="M597 1622.2h0M597 1686.2h0M597 1708.6h0M597 1731h0M597 1753.4h0M597 1779h0M597 1801.9h0M597 1821.8h0" stroke="#e08a3c" stroke-width="5"/>
<path class="e" d="M175.8 1882.3h0" stroke="#20dce8" stroke-width="6"/>
<path class="e" d="M173 1882.3h0" stroke="#101018" stroke-width="5"/>
<path class="e" d="M595.1 1882.3h0" stroke="#f0ea00" stroke-width="7"/>
<path class="e" d="M598.2 1882.3h0" stroke="#101008" stroke-width="6"/>
<path class="e" d="M174.6 1486.2h0" stroke="#e0409a" stroke-width="5"/>
<path class="e" d="M172.8 1486.2h0" stroke="#c01030" stroke-width="4.5"/>
<path class="e" d="M597.2 1486.2h0" stroke="#f01818" stroke-width="7"/>
</g>
<g>
<rect x="618.2" y="1467.9" width="430" height="433.9" fill="#fff"/>
<path d="M687.2 1467.9v433.9M784.9 1467.9v433.9M882.6 1467.9v433.9M980.2 1467.9v433.9M618.2 1836h430M618.2 1743.8h430M618.2 1651.8h430M618.2 1559.7h430" stroke="#f7f7f7" stroke-width="2.5" fill="none"/>
<path d="M638.3 1467.9v433.9M736 1467.9v433.9M833.7 1467.9v433.9M931.4 1467.9v433.9M1029.1 1467.9v433.9M618.2 1882h430M618.2 1789.9h430M618.2 1697.8h430M618.2 1605.7h430M618.2 1513.6h430" stroke="#e6e6e6" stroke-width="3.6" fill="none"/>
<path d="M833.7 1901.8V1467.9" stroke="#111" stroke-width="5.5" stroke-dasharray="21 21" fill="none"/>
<g clip-path="url(#p31)"><use href="#de" transform="translate(833.7 1464.5) scale(-1 1)"/></g>
<rect x="618.2" y="1467.9" width="430" height="433.9" fill="none" stroke="#8e8e8e" stroke-width="4"/>
<path class="e" d="M619.8 1548.4h0M619.8 1563.3h0M619.8 1619.3h0M619.8 1662.9h0M619.8 1675.3h0M619.8 1737.5h0M619.8 1763.7h0M619.8 1779.8h0M619.8 1787.3h0M619.8 1794.8h0M619.8 1804.7h0" stroke="#3f7fc4" stroke-width="4.6"/>
<path class="e" d="M1043.6 1555.8h0M1043.6 1677.8h0M1043.6 1711.4h0M1043.6 1726.3h0M1043.6 1771.1h0M1043.6 1786.1h0" stroke="#e08a3c" stroke-width="5"/>
<path class="e" d="M622.2 1882.3h0" stroke="#20dce8" stroke-width="6"/>
<path class="e" d="M619.4 1882.3h0" stroke="#101018" stroke-width="5"/>
<path class="e" d="M1041.7 1882.3h0" stroke="#f0ea00" stroke-width="7"/>
<path class="e" d="M1044.8 1882.3h0" stroke="#101008" stroke-width="6"/>
<path class="e" d="M621 1486.2h0" stroke="#e0409a" stroke-width="5"/>
<path class="e" d="M619.2 1486.2h0" stroke="#c01030" stroke-width="4.5"/>
<path class="e" d="M1043.8 1486.2h0" stroke="#f01818" stroke-width="7"/>
</g>
<g>
<rect x="1066.8" y="1467.9" width="429.6" height="433.9" fill="#fff"/>
<path d="M1134.8 1467.9v433.9M1232.5 1467.9v433.9M1330.2 1467.9v433.9M1427.9 1467.9v433.9M1066.8 1836h429.6M1066.8 1743.8h429.6M1066.8 1651.8h429.6M1066.8 1559.7h429.6" stroke="#f7f7f7" stroke-width="2.5" fill="none"/>
<path d="M1085.9 1467.9v433.9M1183.6 1467.9v433.9M1281.3 1467.9v433.9M1379 1467.9v433.9M1476.8 1467.9v433.9M1066.8 1882h429.6M1066.8 1789.9h429.6M1066.8 1697.8h429.6M1066.8 1605.7h429.6M1066.8 1513.6h429.6" stroke="#e6e6e6" stroke-width="3.6" fill="none"/>
<path d="M1281.3 1901.8V1467.9" stroke="#111" stroke-width="5.5" stroke-dasharray="21 21" fill="none"/>
<g clip-path="url(#p32)"><use href="#df" transform="translate(1281.3 1464.5) scale(-1 1)"/></g>
<rect x="1066.8" y="1467.9" width="429.6" height="433.9" fill="none" stroke="#8e8e8e" stroke-width="4"/>
<path class="e" d="M1068.4 1737.8h0M1068.4 1764h0M1068.4 1785.1h0M1068.4 1820h0" stroke="#3f7fc4" stroke-width="4.6"/>
<path class="e" d="M1491.8 1768.9h0M1491.8 1785.1h0M1491.8 1803.8h0M1491.8 1822.4h0" stroke="#e08a3c" stroke-width="5"/>
<path class="e" d="M1070.8 1882.3h0" stroke="#20dce8" stroke-width="6"/>
<path class="e" d="M1068 1882.3h0" stroke="#101018" stroke-width="5"/>
<path class="e" d="M1489.9 1882.3h0" stroke="#f0ea00" stroke-width="7"/>
<path class="e" d="M1493 1882.3h0" stroke="#101008" stroke-width="6"/>
</g>
<g>
<rect x="1516" y="1467.9" width="427" height="433.9" fill="#fff"/>
<path d="M1582.5 1467.9v433.9M1680.2 1467.9v433.9M1777.8 1467.9v433.9M1875.5 1467.9v433.9M1516 1836h427M1516 1743.8h427M1516 1651.8h427M1516 1559.7h427" stroke="#f7f7f7" stroke-width="2.5" fill="none"/>
<path d="M1533.6 1467.9v433.9M1631.3 1467.9v433.9M1729 1467.9v433.9M1826.7 1467.9v433.9M1924.4 1467.9v433.9M1516 1882h427M1516 1789.9h427M1516 1697.8h427M1516 1605.7h427M1516 1513.6h427" stroke="#e6e6e6" stroke-width="3.6" fill="none"/>
<rect x="1516" y="1467.9" width="427" height="433.9" fill="none" stroke="#8e8e8e" stroke-width="4"/>
</g>
<text class="tk" x="135.5" y="538.5" text-anchor="end">0</text>
<text class="tk" x="135.5" y="446.4" text-anchor="end">1</text>
<text class="tk" x="135.5" y="354.3" text-anchor="end">2</text>
<text class="tk" x="135.5" y="262.2" text-anchor="end">3</text>
<text class="tk" x="135.5" y="170.1" text-anchor="end">4</text>
<text class="tk" x="135.5" y="992.9" text-anchor="end">0</text>
<text class="tk" x="135.5" y="900.8" text-anchor="end">1</text>
<text class="tk" x="135.5" y="808.7" text-anchor="end">2</text>
<text class="tk" x="135.5" y="716.6" text-anchor="end">3</text>
<text class="tk" x="135.5" y="624.5" text-anchor="end">4</text>
<text class="tk" x="135.5" y="1446.3" text-anchor="end">0</text>
<text class="tk" x="135.5" y="1354.2" text-anchor="end">1</text>
<text class="tk" x="135.5" y="1262.1" text-anchor="end">2</text>
<text class="tk" x="135.5" y="1170" text-anchor="end">3</text>
<text class="tk" x="135.5" y="1077.9" text-anchor="end">4</text>
<text class="tk" x="135.5" y="1900" text-anchor="end">0</text>
<text class="tk" x="135.5" y="1807.9" text-anchor="end">1</text>
<text class="tk" x="135.5" y="1715.8" text-anchor="end">2</text>
<text class="tk" x="135.5" y="1623.7" text-anchor="end">3</text>
<text class="tk" x="135.5" y="1531.6" text-anchor="end">4</text>
<text class="tk" x="190.6" y="1975.5" text-anchor="middle">−10</text>
<text class="tk" x="288.2" y="1975.5" text-anchor="middle">−5</text>
<text class="tk" x="385.9" y="1975.5" text-anchor="middle">0</text>
<text class="tk" x="483.6" y="1975.5" text-anchor="middle">5</text>
<text class="tk" x="581.3" y="1975.5" text-anchor="middle">10</text>
<text class="tk" x="638.3" y="1975.5" text-anchor="middle">−10</text>
<text class="tk" x="736" y="1975.5" text-anchor="middle">−5</text>
<text class="tk" x="833.7" y="1975.5" text-anchor="middle">0</text>
<text class="tk" x="931.4" y="1975.5" text-anchor="middle">5</text>
<text class="tk" x="1029.1" y="1975.5" text-anchor="middle">10</text>
<text class="tk" x="1085.9" y="1975.5" text-anchor="middle">−10</text>
<text class="tk" x="1183.6" y="1975.5" text-anchor="middle">−5</text>
<text class="tk" x="1281.3" y="1975.5" text-anchor="middle">0</text>
<text class="tk" x="1379" y="1975.5" text-anchor="middle">5</text>
<text class="tk" x="1476.8" y="1975.5" text-anchor="middle">10</text>
<text class="tk" x="1533.6" y="1975.5" text-anchor="middle">−10</text>
<text class="tk" x="1631.3" y="1975.5" text-anchor="middle">−5</text>
<text class="tk" x="1729" y="1975.5" text-anchor="middle">0</text>
<text class="tk" x="1826.7" y="1975.5" text-anchor="middle">5</text>
<text class="tk" x="1924.4" y="1975.5" text-anchor="middle">10</text>
<path d="M149.8 520.5h22M149.8 428.4h22M149.8 336.3h22M149.8 244.2h22M149.8 152.1h22M149.8 974.9h22M149.8 882.8h22M149.8 790.7h22M149.8 698.6h22M149.8 606.5h22M149.8 1428.3h22M149.8 1336.2h22M149.8 1244.1h22M149.8 1152h22M149.8 1059.9h22M149.8 1882h22M149.8 1789.9h22M149.8 1697.8h22M149.8 1605.7h22M149.8 1513.6h22M190.6 1901.8v22M288.2 1901.8v22M385.9 1901.8v22M483.6 1901.8v22M581.3 1901.8v22M638.3 1901.8v22M736 1901.8v22M833.7 1901.8v22M931.4 1901.8v22M1029.1 1901.8v22M1085.9 1901.8v22M1183.6 1901.8v22M1281.3 1901.8v22M1379 1901.8v22M1476.8 1901.8v22M1533.6 1901.8v22M1631.3 1901.8v22M1729 1901.8v22M1826.7 1901.8v22M1924.4 1901.8v22" stroke="#262626" stroke-width="4.7" fill="none"/>
<text class="ti" x="1057.5" y="2033.5" text-anchor="middle">log<tspan font-size="42" dy="13">2</tspan><tspan dy="-13">(fold change)</tspan></text>
<text class="ti" transform="translate(77 1003) rotate(-90)" text-anchor="middle"><tspan fill="#777" stroke="none">−</tspan>log<tspan font-size="42" dy="13">10</tspan><tspan dy="-13">(p value)</tspan></text>
<text class="lg" x="2085" y="923" font-weight="bold">significant</text>
<rect x="2086" y="946" width="86" height="85.5" fill="#fff" stroke="#cfcfcf" stroke-width="4.5"/>
<rect x="2086" y="1031.5" width="86" height="85.5" fill="#fff" stroke="#cfcfcf" stroke-width="4.5"/>
<circle cx="2128.5" cy="990" r="5" fill="#000"/>
<circle cx="2128.5" cy="1075.5" r="5" fill="#f00"/>
<text class="lg" x="2181" y="1005.5">no</text>
<text class="lg" x="2181" y="1090.5">yes</text>
</g>
</svg>
</body>
</html>
